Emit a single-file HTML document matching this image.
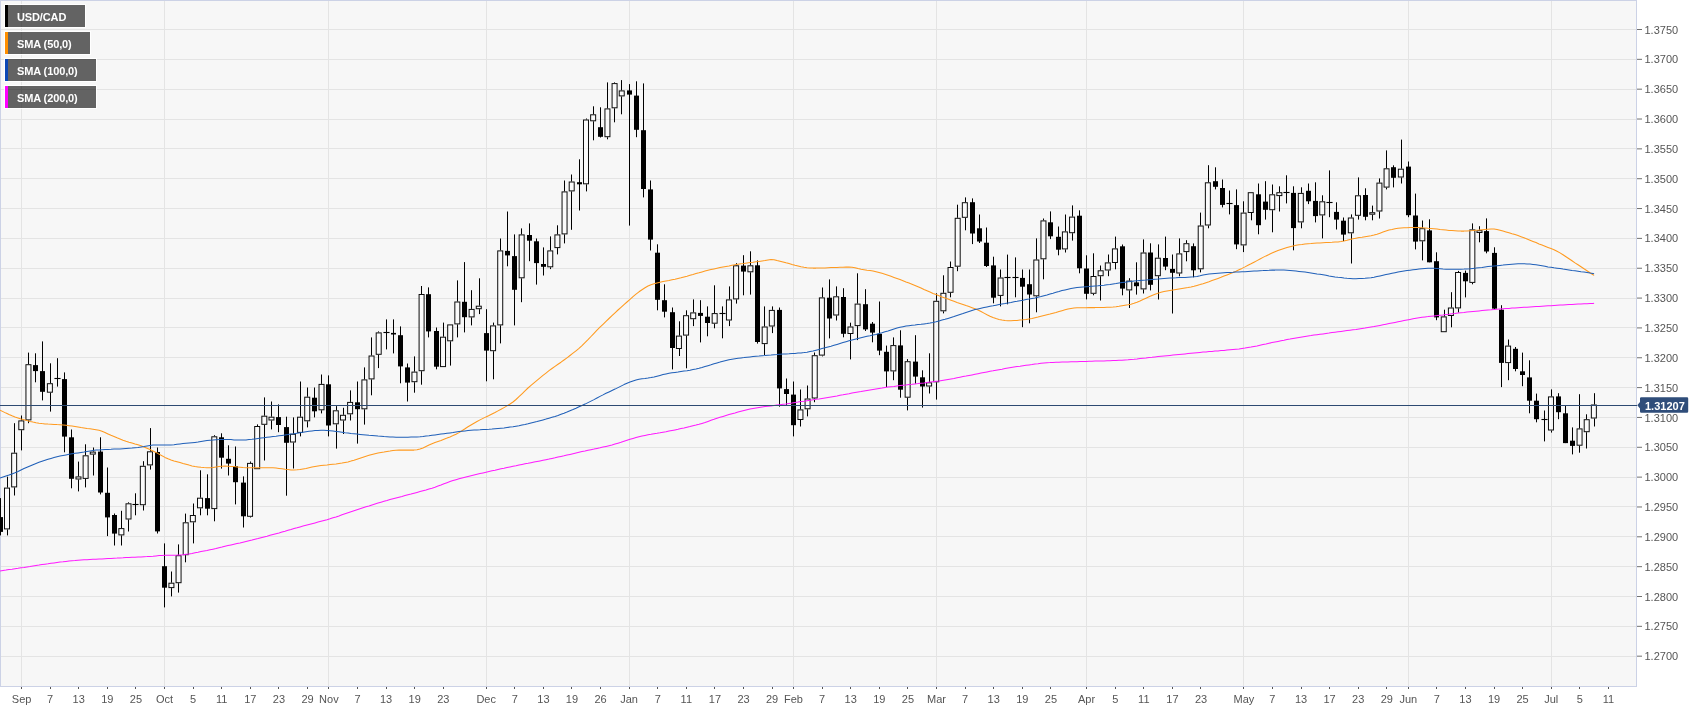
<!DOCTYPE html>
<html><head><meta charset="utf-8"><title>USD/CAD</title>
<style>html,body{margin:0;padding:0;background:#fff}svg{display:block;will-change:transform}text{font-family:"Liberation Sans",sans-serif}</style>
</head><body>
<svg width="1707" height="712" viewBox="0 0 1707 712">
<rect x="0" y="0" width="1707" height="712" fill="#ffffff"/>
<rect x="0" y="0" width="1636" height="686" fill="#f7f7f7"/>
<g stroke="#e4e4e4" stroke-width="1" shape-rendering="crispEdges">
<line x1="1" y1="29.5" x2="1636" y2="29.5"/>
<line x1="1" y1="59.5" x2="1636" y2="59.5"/>
<line x1="1" y1="89.5" x2="1636" y2="89.5"/>
<line x1="1" y1="119.5" x2="1636" y2="119.5"/>
<line x1="1" y1="148.5" x2="1636" y2="148.5"/>
<line x1="1" y1="178.5" x2="1636" y2="178.5"/>
<line x1="1" y1="208.5" x2="1636" y2="208.5"/>
<line x1="1" y1="238.5" x2="1636" y2="238.5"/>
<line x1="1" y1="268.5" x2="1636" y2="268.5"/>
<line x1="1" y1="298.5" x2="1636" y2="298.5"/>
<line x1="1" y1="327.5" x2="1636" y2="327.5"/>
<line x1="1" y1="357.5" x2="1636" y2="357.5"/>
<line x1="1" y1="387.5" x2="1636" y2="387.5"/>
<line x1="1" y1="417.5" x2="1636" y2="417.5"/>
<line x1="1" y1="447.5" x2="1636" y2="447.5"/>
<line x1="1" y1="477.5" x2="1636" y2="477.5"/>
<line x1="1" y1="506.5" x2="1636" y2="506.5"/>
<line x1="1" y1="536.5" x2="1636" y2="536.5"/>
<line x1="1" y1="566.5" x2="1636" y2="566.5"/>
<line x1="1" y1="596.5" x2="1636" y2="596.5"/>
<line x1="1" y1="626.5" x2="1636" y2="626.5"/>
<line x1="1" y1="656.5" x2="1636" y2="656.5"/>
<line x1="21.5" y1="1" x2="21.5" y2="686"/>
<line x1="164.5" y1="1" x2="164.5" y2="686"/>
<line x1="328.5" y1="1" x2="328.5" y2="686"/>
<line x1="486.5" y1="1" x2="486.5" y2="686"/>
<line x1="629.5" y1="1" x2="629.5" y2="686"/>
<line x1="793.5" y1="1" x2="793.5" y2="686"/>
<line x1="936.5" y1="1" x2="936.5" y2="686"/>
<line x1="1086.5" y1="1" x2="1086.5" y2="686"/>
<line x1="1243.5" y1="1" x2="1243.5" y2="686"/>
<line x1="1408.5" y1="1" x2="1408.5" y2="686"/>
<line x1="1551.5" y1="1" x2="1551.5" y2="686"/>
</g>
<g fill="none" stroke="#ccd2e6" stroke-width="1" shape-rendering="crispEdges"><line x1="0" y1="0.5" x2="1637" y2="0.5"/><line x1="0.5" y1="0" x2="0.5" y2="687"/><line x1="1636.5" y1="0" x2="1636.5" y2="687"/><line x1="0" y1="686.5" x2="1637" y2="686.5"/></g>
<g id="candles">
<line x1="0.5" y1="498.1" x2="0.5" y2="535.4" stroke="#000" stroke-width="1"/>
<rect x="-2" y="517.1" width="5" height="14.8" fill="#000"/>
<line x1="7.5" y1="476.7" x2="7.5" y2="487.6" stroke="#000" stroke-width="1"/>
<line x1="7.5" y1="529.4" x2="7.5" y2="535.4" stroke="#000" stroke-width="1"/>
<rect x="4.50" y="488.1" width="5" height="40.8" fill="#fff" fill-opacity="0.55" stroke="#0c0c0c" stroke-width="1"/>
<line x1="14.5" y1="423.2" x2="14.5" y2="452.7" stroke="#000" stroke-width="1"/>
<line x1="14.5" y1="487.4" x2="14.5" y2="495.5" stroke="#000" stroke-width="1"/>
<rect x="11.65" y="453.2" width="5" height="33.7" fill="#fff" fill-opacity="0.55" stroke="#0c0c0c" stroke-width="1"/>
<line x1="21.5" y1="415.5" x2="21.5" y2="420.4" stroke="#000" stroke-width="1"/>
<line x1="21.5" y1="430.2" x2="21.5" y2="450.4" stroke="#000" stroke-width="1"/>
<rect x="18.80" y="420.9" width="5" height="8.8" fill="#fff" fill-opacity="0.55" stroke="#0c0c0c" stroke-width="1"/>
<line x1="28.5" y1="352.6" x2="28.5" y2="364.2" stroke="#000" stroke-width="1"/>
<line x1="28.5" y1="420.4" x2="28.5" y2="423.2" stroke="#000" stroke-width="1"/>
<rect x="25.95" y="364.7" width="5" height="55.2" fill="#fff" fill-opacity="0.55" stroke="#0c0c0c" stroke-width="1"/>
<line x1="35.5" y1="353.3" x2="35.5" y2="382.3" stroke="#000" stroke-width="1"/>
<rect x="33" y="365.1" width="5" height="6.0" fill="#000"/>
<line x1="42.5" y1="341.4" x2="42.5" y2="400.4" stroke="#000" stroke-width="1"/>
<rect x="40" y="371.1" width="5" height="20.7" fill="#000"/>
<line x1="50.5" y1="363.3" x2="50.5" y2="383.2" stroke="#000" stroke-width="1"/>
<line x1="50.5" y1="392.7" x2="50.5" y2="411.6" stroke="#000" stroke-width="1"/>
<rect x="47.39" y="383.7" width="5" height="8.5" fill="#fff" fill-opacity="0.55" stroke="#0c0c0c" stroke-width="1"/>
<line x1="57.5" y1="358.2" x2="57.5" y2="386.6" stroke="#000" stroke-width="1"/>
<rect x="54.5" y="378" width="6" height="1" fill="#000"/>
<rect x="54.5" y="377.75" width="6" height="1.5" fill="#000" opacity="0.25"/>
<line x1="64.5" y1="372.4" x2="64.5" y2="452.3" stroke="#000" stroke-width="1"/>
<rect x="62" y="379.1" width="5" height="57.5" fill="#000"/>
<line x1="71.5" y1="429.5" x2="71.5" y2="488.3" stroke="#000" stroke-width="1"/>
<rect x="69" y="437.3" width="5" height="41.5" fill="#000"/>
<line x1="78.5" y1="461.6" x2="78.5" y2="476.4" stroke="#000" stroke-width="1"/>
<line x1="78.5" y1="479.5" x2="78.5" y2="491.4" stroke="#000" stroke-width="1"/>
<rect x="75.98" y="476.9" width="5" height="2.1" fill="#fff" fill-opacity="0.55" stroke="#0c0c0c" stroke-width="1"/>
<line x1="85.5" y1="444.3" x2="85.5" y2="455.3" stroke="#000" stroke-width="1"/>
<line x1="85.5" y1="478.9" x2="85.5" y2="487.4" stroke="#000" stroke-width="1"/>
<rect x="83.13" y="455.8" width="5" height="22.6" fill="#fff" fill-opacity="0.55" stroke="#0c0c0c" stroke-width="1"/>
<line x1="93.5" y1="447.5" x2="93.5" y2="451.6" stroke="#000" stroke-width="1"/>
<line x1="93.5" y1="454.6" x2="93.5" y2="475.5" stroke="#000" stroke-width="1"/>
<rect x="90.28" y="452.1" width="5" height="2.0" fill="#fff" fill-opacity="0.55" stroke="#0c0c0c" stroke-width="1"/>
<line x1="100.5" y1="437.3" x2="100.5" y2="494.4" stroke="#000" stroke-width="1"/>
<rect x="98" y="451.6" width="5" height="40.9" fill="#000"/>
<line x1="107.5" y1="467.5" x2="107.5" y2="536.1" stroke="#000" stroke-width="1"/>
<rect x="105" y="492.8" width="5" height="24.6" fill="#000"/>
<line x1="114.5" y1="513.5" x2="114.5" y2="545.5" stroke="#000" stroke-width="1"/>
<rect x="112" y="515.0" width="5" height="18.6" fill="#000"/>
<line x1="121.5" y1="510.8" x2="121.5" y2="528.1" stroke="#000" stroke-width="1"/>
<line x1="121.5" y1="535.4" x2="121.5" y2="545.5" stroke="#000" stroke-width="1"/>
<rect x="118.87" y="528.6" width="5" height="6.3" fill="#fff" fill-opacity="0.55" stroke="#0c0c0c" stroke-width="1"/>
<line x1="128.5" y1="502.3" x2="128.5" y2="503.3" stroke="#000" stroke-width="1"/>
<line x1="128.5" y1="519.5" x2="128.5" y2="531.5" stroke="#000" stroke-width="1"/>
<rect x="126.02" y="503.8" width="5" height="15.2" fill="#fff" fill-opacity="0.55" stroke="#0c0c0c" stroke-width="1"/>
<line x1="135.5" y1="493.3" x2="135.5" y2="515.3" stroke="#000" stroke-width="1"/>
<rect x="132.5" y="504" width="6" height="1" fill="#000"/>
<rect x="132.5" y="503.75" width="6" height="1.5" fill="#000" opacity="0.25"/>
<line x1="143.5" y1="461.2" x2="143.5" y2="465.8" stroke="#000" stroke-width="1"/>
<line x1="143.5" y1="505.2" x2="143.5" y2="510.5" stroke="#000" stroke-width="1"/>
<rect x="140.32" y="466.3" width="5" height="38.4" fill="#fff" fill-opacity="0.55" stroke="#0c0c0c" stroke-width="1"/>
<line x1="150.5" y1="428.1" x2="150.5" y2="451.3" stroke="#000" stroke-width="1"/>
<line x1="150.5" y1="465.4" x2="150.5" y2="469.6" stroke="#000" stroke-width="1"/>
<rect x="147.46" y="451.8" width="5" height="13.1" fill="#fff" fill-opacity="0.55" stroke="#0c0c0c" stroke-width="1"/>
<line x1="157.5" y1="447.5" x2="157.5" y2="533.5" stroke="#000" stroke-width="1"/>
<rect x="155" y="452.0" width="5" height="79.4" fill="#000"/>
<line x1="164.5" y1="543.4" x2="164.5" y2="607.4" stroke="#000" stroke-width="1"/>
<rect x="162" y="566.2" width="5" height="21.5" fill="#000"/>
<line x1="171.5" y1="571.5" x2="171.5" y2="582.7" stroke="#000" stroke-width="1"/>
<line x1="171.5" y1="588.1" x2="171.5" y2="596.4" stroke="#000" stroke-width="1"/>
<rect x="168.91" y="583.2" width="5" height="4.4" fill="#fff" fill-opacity="0.55" stroke="#0c0c0c" stroke-width="1"/>
<line x1="178.5" y1="544.4" x2="178.5" y2="555.2" stroke="#000" stroke-width="1"/>
<line x1="178.5" y1="583.2" x2="178.5" y2="592.6" stroke="#000" stroke-width="1"/>
<rect x="176.06" y="555.7" width="5" height="27.0" fill="#fff" fill-opacity="0.55" stroke="#0c0c0c" stroke-width="1"/>
<line x1="185.5" y1="513.6" x2="185.5" y2="522.3" stroke="#000" stroke-width="1"/>
<line x1="185.5" y1="555.2" x2="185.5" y2="562.3" stroke="#000" stroke-width="1"/>
<rect x="183.20" y="522.8" width="5" height="31.9" fill="#fff" fill-opacity="0.55" stroke="#0c0c0c" stroke-width="1"/>
<line x1="193.5" y1="503.5" x2="193.5" y2="515.0" stroke="#000" stroke-width="1"/>
<line x1="193.5" y1="522.3" x2="193.5" y2="543.4" stroke="#000" stroke-width="1"/>
<rect x="190.35" y="515.5" width="5" height="6.3" fill="#fff" fill-opacity="0.55" stroke="#0c0c0c" stroke-width="1"/>
<line x1="200.5" y1="470.3" x2="200.5" y2="497.7" stroke="#000" stroke-width="1"/>
<line x1="200.5" y1="508.3" x2="200.5" y2="515.3" stroke="#000" stroke-width="1"/>
<rect x="197.50" y="498.2" width="5" height="9.6" fill="#fff" fill-opacity="0.55" stroke="#0c0c0c" stroke-width="1"/>
<line x1="207.5" y1="474.3" x2="207.5" y2="515.3" stroke="#000" stroke-width="1"/>
<rect x="205" y="498.1" width="5" height="10.6" fill="#000"/>
<line x1="214.5" y1="435.2" x2="214.5" y2="436.3" stroke="#000" stroke-width="1"/>
<line x1="214.5" y1="509.1" x2="214.5" y2="521.3" stroke="#000" stroke-width="1"/>
<rect x="211.80" y="436.8" width="5" height="71.8" fill="#fff" fill-opacity="0.55" stroke="#0c0c0c" stroke-width="1"/>
<line x1="221.5" y1="433.3" x2="221.5" y2="468.6" stroke="#000" stroke-width="1"/>
<rect x="219" y="437.3" width="5" height="20.4" fill="#000"/>
<line x1="228.5" y1="445.3" x2="228.5" y2="475.5" stroke="#000" stroke-width="1"/>
<rect x="226" y="458.8" width="5" height="4.8" fill="#000"/>
<line x1="235.5" y1="446.5" x2="235.5" y2="504.4" stroke="#000" stroke-width="1"/>
<rect x="233" y="466.2" width="5" height="16.0" fill="#000"/>
<line x1="243.5" y1="476.4" x2="243.5" y2="527.5" stroke="#000" stroke-width="1"/>
<rect x="241" y="482.6" width="5" height="33.7" fill="#000"/>
<line x1="250.5" y1="461.5" x2="250.5" y2="462.9" stroke="#000" stroke-width="1"/>
<line x1="250.5" y1="516.8" x2="250.5" y2="517.5" stroke="#000" stroke-width="1"/>
<rect x="247.54" y="463.4" width="5" height="52.9" fill="#fff" fill-opacity="0.55" stroke="#0c0c0c" stroke-width="1"/>
<line x1="257.5" y1="424.4" x2="257.5" y2="426.0" stroke="#000" stroke-width="1"/>
<rect x="254.68" y="426.5" width="5" height="42.2" fill="#fff" fill-opacity="0.55" stroke="#0c0c0c" stroke-width="1"/>
<line x1="264.5" y1="397.4" x2="264.5" y2="415.7" stroke="#000" stroke-width="1"/>
<line x1="264.5" y1="424.8" x2="264.5" y2="460.5" stroke="#000" stroke-width="1"/>
<rect x="261.83" y="416.2" width="5" height="8.1" fill="#fff" fill-opacity="0.55" stroke="#0c0c0c" stroke-width="1"/>
<line x1="271.5" y1="401.5" x2="271.5" y2="416.7" stroke="#000" stroke-width="1"/>
<line x1="271.5" y1="420.5" x2="271.5" y2="429.4" stroke="#000" stroke-width="1"/>
<rect x="268.98" y="417.2" width="5" height="2.8" fill="#fff" fill-opacity="0.55" stroke="#0c0c0c" stroke-width="1"/>
<line x1="278.5" y1="404.4" x2="278.5" y2="432.2" stroke="#000" stroke-width="1"/>
<rect x="276" y="417.1" width="5" height="7.9" fill="#000"/>
<line x1="286.5" y1="416.7" x2="286.5" y2="495.7" stroke="#000" stroke-width="1"/>
<rect x="284" y="427.1" width="5" height="15.7" fill="#000"/>
<line x1="293.5" y1="417.4" x2="293.5" y2="433.8" stroke="#000" stroke-width="1"/>
<line x1="293.5" y1="442.5" x2="293.5" y2="468.5" stroke="#000" stroke-width="1"/>
<rect x="290.42" y="434.3" width="5" height="7.7" fill="#fff" fill-opacity="0.55" stroke="#0c0c0c" stroke-width="1"/>
<line x1="300.5" y1="381.5" x2="300.5" y2="416.7" stroke="#000" stroke-width="1"/>
<line x1="300.5" y1="432.9" x2="300.5" y2="436.4" stroke="#000" stroke-width="1"/>
<rect x="297.57" y="417.2" width="5" height="15.2" fill="#fff" fill-opacity="0.55" stroke="#0c0c0c" stroke-width="1"/>
<line x1="307.5" y1="387.5" x2="307.5" y2="396.7" stroke="#000" stroke-width="1"/>
<line x1="307.5" y1="421.3" x2="307.5" y2="427.4" stroke="#000" stroke-width="1"/>
<rect x="304.72" y="397.2" width="5" height="23.6" fill="#fff" fill-opacity="0.55" stroke="#0c0c0c" stroke-width="1"/>
<line x1="314.5" y1="387.5" x2="314.5" y2="417.4" stroke="#000" stroke-width="1"/>
<rect x="312" y="397.7" width="5" height="13.6" fill="#000"/>
<line x1="321.5" y1="374.5" x2="321.5" y2="383.9" stroke="#000" stroke-width="1"/>
<line x1="321.5" y1="410.3" x2="321.5" y2="413.4" stroke="#000" stroke-width="1"/>
<rect x="319.02" y="384.4" width="5" height="25.4" fill="#fff" fill-opacity="0.55" stroke="#0c0c0c" stroke-width="1"/>
<line x1="328.5" y1="375.4" x2="328.5" y2="436.4" stroke="#000" stroke-width="1"/>
<rect x="326" y="384.3" width="5" height="41.2" fill="#000"/>
<line x1="336.5" y1="406.1" x2="336.5" y2="410.3" stroke="#000" stroke-width="1"/>
<line x1="336.5" y1="424.3" x2="336.5" y2="448.6" stroke="#000" stroke-width="1"/>
<rect x="333.31" y="410.8" width="5" height="13.0" fill="#fff" fill-opacity="0.55" stroke="#0c0c0c" stroke-width="1"/>
<line x1="343.5" y1="407.8" x2="343.5" y2="414.8" stroke="#000" stroke-width="1"/>
<line x1="343.5" y1="420.5" x2="343.5" y2="434.0" stroke="#000" stroke-width="1"/>
<rect x="340.46" y="415.3" width="5" height="4.7" fill="#fff" fill-opacity="0.55" stroke="#0c0c0c" stroke-width="1"/>
<line x1="350.5" y1="390.4" x2="350.5" y2="401.9" stroke="#000" stroke-width="1"/>
<line x1="350.5" y1="414.3" x2="350.5" y2="420.5" stroke="#000" stroke-width="1"/>
<rect x="347.61" y="402.4" width="5" height="11.4" fill="#fff" fill-opacity="0.55" stroke="#0c0c0c" stroke-width="1"/>
<line x1="357.5" y1="381.5" x2="357.5" y2="443.6" stroke="#000" stroke-width="1"/>
<rect x="355" y="402.3" width="5" height="6.9" fill="#000"/>
<line x1="364.5" y1="367.4" x2="364.5" y2="379.4" stroke="#000" stroke-width="1"/>
<line x1="364.5" y1="409.3" x2="364.5" y2="424.6" stroke="#000" stroke-width="1"/>
<rect x="361.90" y="379.9" width="5" height="28.9" fill="#fff" fill-opacity="0.55" stroke="#0c0c0c" stroke-width="1"/>
<line x1="371.5" y1="337.4" x2="371.5" y2="355.5" stroke="#000" stroke-width="1"/>
<line x1="371.5" y1="379.4" x2="371.5" y2="395.3" stroke="#000" stroke-width="1"/>
<rect x="369.05" y="356.0" width="5" height="22.9" fill="#fff" fill-opacity="0.55" stroke="#0c0c0c" stroke-width="1"/>
<line x1="378.5" y1="331.4" x2="378.5" y2="332.4" stroke="#000" stroke-width="1"/>
<line x1="378.5" y1="354.8" x2="378.5" y2="368.1" stroke="#000" stroke-width="1"/>
<rect x="376.20" y="332.9" width="5" height="21.4" fill="#fff" fill-opacity="0.55" stroke="#0c0c0c" stroke-width="1"/>
<line x1="386.5" y1="319.4" x2="386.5" y2="349.4" stroke="#000" stroke-width="1"/>
<rect x="383.5" y="332" width="6" height="1" fill="#000"/>
<rect x="383.5" y="331.75" width="6" height="1.5" fill="#000" opacity="0.25"/>
<line x1="393.5" y1="319.4" x2="393.5" y2="353.4" stroke="#000" stroke-width="1"/>
<rect x="391" y="332.9" width="5" height="1.6" fill="#000"/>
<line x1="400.5" y1="326.4" x2="400.5" y2="383.3" stroke="#000" stroke-width="1"/>
<rect x="398" y="335.2" width="5" height="31.2" fill="#000"/>
<line x1="407.5" y1="363.5" x2="407.5" y2="401.5" stroke="#000" stroke-width="1"/>
<rect x="405" y="367.4" width="5" height="15.2" fill="#000"/>
<line x1="414.5" y1="356.4" x2="414.5" y2="371.6" stroke="#000" stroke-width="1"/>
<line x1="414.5" y1="382.2" x2="414.5" y2="392.7" stroke="#000" stroke-width="1"/>
<rect x="411.94" y="372.1" width="5" height="9.6" fill="#fff" fill-opacity="0.55" stroke="#0c0c0c" stroke-width="1"/>
<line x1="421.5" y1="286.0" x2="421.5" y2="294.0" stroke="#000" stroke-width="1"/>
<line x1="421.5" y1="371.2" x2="421.5" y2="384.7" stroke="#000" stroke-width="1"/>
<rect x="419.09" y="294.5" width="5" height="76.2" fill="#fff" fill-opacity="0.55" stroke="#0c0c0c" stroke-width="1"/>
<line x1="428.5" y1="287.4" x2="428.5" y2="337.4" stroke="#000" stroke-width="1"/>
<rect x="426" y="294.2" width="5" height="37.2" fill="#000"/>
<line x1="436.5" y1="327.5" x2="436.5" y2="369.3" stroke="#000" stroke-width="1"/>
<rect x="434" y="331.0" width="5" height="35.7" fill="#000"/>
<line x1="443.5" y1="322.6" x2="443.5" y2="336.7" stroke="#000" stroke-width="1"/>
<rect x="440.53" y="337.2" width="5" height="29.4" fill="#fff" fill-opacity="0.55" stroke="#0c0c0c" stroke-width="1"/>
<line x1="450.5" y1="341.3" x2="450.5" y2="365.6" stroke="#000" stroke-width="1"/>
<rect x="447.68" y="324.9" width="5" height="15.9" fill="#fff" fill-opacity="0.55" stroke="#0c0c0c" stroke-width="1"/>
<line x1="457.5" y1="280.4" x2="457.5" y2="301.5" stroke="#000" stroke-width="1"/>
<line x1="457.5" y1="324.4" x2="457.5" y2="337.4" stroke="#000" stroke-width="1"/>
<rect x="454.83" y="302.0" width="5" height="21.9" fill="#fff" fill-opacity="0.55" stroke="#0c0c0c" stroke-width="1"/>
<line x1="464.5" y1="262.1" x2="464.5" y2="332.4" stroke="#000" stroke-width="1"/>
<rect x="462" y="301.8" width="5" height="15.4" fill="#000"/>
<line x1="471.5" y1="290.2" x2="471.5" y2="308.9" stroke="#000" stroke-width="1"/>
<line x1="471.5" y1="317.4" x2="471.5" y2="325.4" stroke="#000" stroke-width="1"/>
<rect x="469.12" y="309.4" width="5" height="7.5" fill="#fff" fill-opacity="0.55" stroke="#0c0c0c" stroke-width="1"/>
<line x1="479.5" y1="278.3" x2="479.5" y2="305.7" stroke="#000" stroke-width="1"/>
<line x1="479.5" y1="309.2" x2="479.5" y2="314.1" stroke="#000" stroke-width="1"/>
<rect x="476.27" y="306.2" width="5" height="2.5" fill="#fff" fill-opacity="0.55" stroke="#0c0c0c" stroke-width="1"/>
<line x1="486.5" y1="309.2" x2="486.5" y2="381.3" stroke="#000" stroke-width="1"/>
<rect x="484" y="333.1" width="5" height="17.5" fill="#000"/>
<line x1="493.5" y1="322.6" x2="493.5" y2="325.4" stroke="#000" stroke-width="1"/>
<line x1="493.5" y1="351.2" x2="493.5" y2="379.3" stroke="#000" stroke-width="1"/>
<rect x="490.57" y="325.9" width="5" height="24.8" fill="#fff" fill-opacity="0.55" stroke="#0c0c0c" stroke-width="1"/>
<line x1="500.5" y1="238.5" x2="500.5" y2="250.4" stroke="#000" stroke-width="1"/>
<line x1="500.5" y1="325.4" x2="500.5" y2="343.4" stroke="#000" stroke-width="1"/>
<rect x="497.72" y="250.9" width="5" height="74.0" fill="#fff" fill-opacity="0.55" stroke="#0c0c0c" stroke-width="1"/>
<line x1="507.5" y1="211.5" x2="507.5" y2="266.3" stroke="#000" stroke-width="1"/>
<rect x="505" y="250.9" width="5" height="4.5" fill="#000"/>
<line x1="514.5" y1="234.4" x2="514.5" y2="325.4" stroke="#000" stroke-width="1"/>
<rect x="512" y="256.1" width="5" height="33.7" fill="#000"/>
<line x1="521.5" y1="228.4" x2="521.5" y2="234.4" stroke="#000" stroke-width="1"/>
<line x1="521.5" y1="278.3" x2="521.5" y2="302.2" stroke="#000" stroke-width="1"/>
<rect x="519.16" y="234.9" width="5" height="42.9" fill="#fff" fill-opacity="0.55" stroke="#0c0c0c" stroke-width="1"/>
<line x1="529.5" y1="223.4" x2="529.5" y2="261.2" stroke="#000" stroke-width="1"/>
<rect x="527" y="235.0" width="5" height="5.7" fill="#000"/>
<line x1="536.5" y1="238.5" x2="536.5" y2="284.6" stroke="#000" stroke-width="1"/>
<rect x="534" y="241.3" width="5" height="21.8" fill="#000"/>
<line x1="543.5" y1="247.4" x2="543.5" y2="275.5" stroke="#000" stroke-width="1"/>
<rect x="541" y="264.0" width="5" height="2.8" fill="#000"/>
<line x1="550.5" y1="236.4" x2="550.5" y2="250.4" stroke="#000" stroke-width="1"/>
<line x1="550.5" y1="267.3" x2="550.5" y2="269.1" stroke="#000" stroke-width="1"/>
<rect x="547.75" y="250.9" width="5" height="15.9" fill="#fff" fill-opacity="0.55" stroke="#0c0c0c" stroke-width="1"/>
<line x1="557.5" y1="225.3" x2="557.5" y2="234.4" stroke="#000" stroke-width="1"/>
<line x1="557.5" y1="248.1" x2="557.5" y2="254.4" stroke="#000" stroke-width="1"/>
<rect x="554.90" y="234.9" width="5" height="12.7" fill="#fff" fill-opacity="0.55" stroke="#0c0c0c" stroke-width="1"/>
<line x1="564.5" y1="180.5" x2="564.5" y2="191.4" stroke="#000" stroke-width="1"/>
<line x1="564.5" y1="234.4" x2="564.5" y2="243.4" stroke="#000" stroke-width="1"/>
<rect x="562.05" y="191.9" width="5" height="42.0" fill="#fff" fill-opacity="0.55" stroke="#0c0c0c" stroke-width="1"/>
<line x1="571.5" y1="174.5" x2="571.5" y2="181.5" stroke="#000" stroke-width="1"/>
<line x1="571.5" y1="191.4" x2="571.5" y2="229.8" stroke="#000" stroke-width="1"/>
<rect x="569.20" y="182.0" width="5" height="8.9" fill="#fff" fill-opacity="0.55" stroke="#0c0c0c" stroke-width="1"/>
<line x1="579.5" y1="159.3" x2="579.5" y2="210.5" stroke="#000" stroke-width="1"/>
<rect x="577" y="182.2" width="5" height="2.1" fill="#000"/>
<line x1="586.5" y1="118.5" x2="586.5" y2="119.5" stroke="#000" stroke-width="1"/>
<line x1="586.5" y1="184.3" x2="586.5" y2="191.4" stroke="#000" stroke-width="1"/>
<rect x="583.49" y="120.0" width="5" height="63.8" fill="#fff" fill-opacity="0.55" stroke="#0c0c0c" stroke-width="1"/>
<line x1="593.5" y1="106.3" x2="593.5" y2="114.3" stroke="#000" stroke-width="1"/>
<line x1="593.5" y1="121.3" x2="593.5" y2="140.3" stroke="#000" stroke-width="1"/>
<rect x="590.64" y="114.8" width="5" height="6.0" fill="#fff" fill-opacity="0.55" stroke="#0c0c0c" stroke-width="1"/>
<line x1="600.5" y1="107.3" x2="600.5" y2="137.5" stroke="#000" stroke-width="1"/>
<rect x="598" y="127.2" width="5" height="9.6" fill="#000"/>
<line x1="607.5" y1="82.4" x2="607.5" y2="108.4" stroke="#000" stroke-width="1"/>
<line x1="607.5" y1="137.2" x2="607.5" y2="139.3" stroke="#000" stroke-width="1"/>
<rect x="604.94" y="108.9" width="5" height="27.8" fill="#fff" fill-opacity="0.55" stroke="#0c0c0c" stroke-width="1"/>
<line x1="614.5" y1="82.4" x2="614.5" y2="83.1" stroke="#000" stroke-width="1"/>
<line x1="614.5" y1="108.3" x2="614.5" y2="122.3" stroke="#000" stroke-width="1"/>
<rect x="612.08" y="83.6" width="5" height="24.2" fill="#fff" fill-opacity="0.55" stroke="#0c0c0c" stroke-width="1"/>
<line x1="621.5" y1="80.1" x2="621.5" y2="90.4" stroke="#000" stroke-width="1"/>
<line x1="621.5" y1="96.4" x2="621.5" y2="114.3" stroke="#000" stroke-width="1"/>
<rect x="619.23" y="90.9" width="5" height="5.0" fill="#fff" fill-opacity="0.55" stroke="#0c0c0c" stroke-width="1"/>
<line x1="629.5" y1="84.1" x2="629.5" y2="225.6" stroke="#000" stroke-width="1"/>
<rect x="627" y="90.4" width="5" height="4.2" fill="#000"/>
<line x1="636.5" y1="81.3" x2="636.5" y2="137.2" stroke="#000" stroke-width="1"/>
<rect x="634" y="95.6" width="5" height="34.2" fill="#000"/>
<line x1="643.5" y1="83.4" x2="643.5" y2="197.4" stroke="#000" stroke-width="1"/>
<rect x="641" y="130.2" width="5" height="58.8" fill="#000"/>
<line x1="650.5" y1="180.5" x2="650.5" y2="250.5" stroke="#000" stroke-width="1"/>
<rect x="648" y="189.4" width="5" height="50.2" fill="#000"/>
<line x1="657.5" y1="244.3" x2="657.5" y2="310.3" stroke="#000" stroke-width="1"/>
<rect x="655" y="252.7" width="5" height="47.1" fill="#000"/>
<line x1="664.5" y1="284.3" x2="664.5" y2="317.4" stroke="#000" stroke-width="1"/>
<rect x="662" y="300.2" width="5" height="11.5" fill="#000"/>
<line x1="672.5" y1="307.5" x2="672.5" y2="369.4" stroke="#000" stroke-width="1"/>
<rect x="670" y="312.2" width="5" height="35.8" fill="#000"/>
<line x1="679.5" y1="321.3" x2="679.5" y2="335.6" stroke="#000" stroke-width="1"/>
<line x1="679.5" y1="349.0" x2="679.5" y2="356.0" stroke="#000" stroke-width="1"/>
<rect x="676.42" y="336.1" width="5" height="12.4" fill="#fff" fill-opacity="0.55" stroke="#0c0c0c" stroke-width="1"/>
<line x1="686.5" y1="310.3" x2="686.5" y2="315.2" stroke="#000" stroke-width="1"/>
<line x1="686.5" y1="335.6" x2="686.5" y2="368.3" stroke="#000" stroke-width="1"/>
<rect x="683.56" y="315.7" width="5" height="19.4" fill="#fff" fill-opacity="0.55" stroke="#0c0c0c" stroke-width="1"/>
<line x1="693.5" y1="299.4" x2="693.5" y2="312.4" stroke="#000" stroke-width="1"/>
<line x1="693.5" y1="319.2" x2="693.5" y2="326.1" stroke="#000" stroke-width="1"/>
<rect x="690.71" y="312.9" width="5" height="5.8" fill="#fff" fill-opacity="0.55" stroke="#0c0c0c" stroke-width="1"/>
<line x1="700.5" y1="300.2" x2="700.5" y2="342.4" stroke="#000" stroke-width="1"/>
<rect x="698" y="312.9" width="5" height="3.0" fill="#000"/>
<line x1="707.5" y1="306.4" x2="707.5" y2="336.3" stroke="#000" stroke-width="1"/>
<rect x="705" y="316.7" width="5" height="6.3" fill="#000"/>
<line x1="714.5" y1="285.3" x2="714.5" y2="313.1" stroke="#000" stroke-width="1"/>
<line x1="714.5" y1="323.7" x2="714.5" y2="328.3" stroke="#000" stroke-width="1"/>
<rect x="712.16" y="313.6" width="5" height="9.6" fill="#fff" fill-opacity="0.55" stroke="#0c0c0c" stroke-width="1"/>
<line x1="722.5" y1="306.4" x2="722.5" y2="338.3" stroke="#000" stroke-width="1"/>
<rect x="719.5" y="313" width="6" height="1" fill="#000"/>
<rect x="719.5" y="312.75" width="6" height="1.5" fill="#000" opacity="0.25"/>
<line x1="729.5" y1="286.4" x2="729.5" y2="299.4" stroke="#000" stroke-width="1"/>
<line x1="729.5" y1="320.5" x2="729.5" y2="326.1" stroke="#000" stroke-width="1"/>
<rect x="726.45" y="299.9" width="5" height="20.1" fill="#fff" fill-opacity="0.55" stroke="#0c0c0c" stroke-width="1"/>
<line x1="736.5" y1="263.2" x2="736.5" y2="265.3" stroke="#000" stroke-width="1"/>
<line x1="736.5" y1="299.4" x2="736.5" y2="303.6" stroke="#000" stroke-width="1"/>
<rect x="733.60" y="265.8" width="5" height="33.1" fill="#fff" fill-opacity="0.55" stroke="#0c0c0c" stroke-width="1"/>
<line x1="743.5" y1="255.2" x2="743.5" y2="295.3" stroke="#000" stroke-width="1"/>
<rect x="741" y="265.6" width="5" height="6.0" fill="#000"/>
<line x1="750.5" y1="251.3" x2="750.5" y2="265.3" stroke="#000" stroke-width="1"/>
<line x1="750.5" y1="272.3" x2="750.5" y2="294.6" stroke="#000" stroke-width="1"/>
<rect x="747.90" y="265.8" width="5" height="6.0" fill="#fff" fill-opacity="0.55" stroke="#0c0c0c" stroke-width="1"/>
<line x1="757.5" y1="260.4" x2="757.5" y2="343.6" stroke="#000" stroke-width="1"/>
<rect x="755" y="265.3" width="5" height="76.7" fill="#000"/>
<line x1="764.5" y1="306.4" x2="764.5" y2="326.5" stroke="#000" stroke-width="1"/>
<line x1="764.5" y1="344.1" x2="764.5" y2="355.0" stroke="#000" stroke-width="1"/>
<rect x="762.19" y="327.0" width="5" height="16.6" fill="#fff" fill-opacity="0.55" stroke="#0c0c0c" stroke-width="1"/>
<line x1="772.5" y1="306.4" x2="772.5" y2="309.9" stroke="#000" stroke-width="1"/>
<line x1="772.5" y1="326.5" x2="772.5" y2="333.1" stroke="#000" stroke-width="1"/>
<rect x="769.34" y="310.4" width="5" height="15.6" fill="#fff" fill-opacity="0.55" stroke="#0c0c0c" stroke-width="1"/>
<line x1="779.5" y1="307.5" x2="779.5" y2="406.7" stroke="#000" stroke-width="1"/>
<rect x="777" y="309.9" width="5" height="78.5" fill="#000"/>
<line x1="786.5" y1="378.5" x2="786.5" y2="405.2" stroke="#000" stroke-width="1"/>
<rect x="784" y="389.1" width="5" height="4.9" fill="#000"/>
<line x1="793.5" y1="381.5" x2="793.5" y2="436.4" stroke="#000" stroke-width="1"/>
<rect x="791" y="394.6" width="5" height="30.6" fill="#000"/>
<line x1="800.5" y1="389.5" x2="800.5" y2="409.4" stroke="#000" stroke-width="1"/>
<line x1="800.5" y1="420.0" x2="800.5" y2="426.5" stroke="#000" stroke-width="1"/>
<rect x="797.93" y="409.9" width="5" height="9.6" fill="#fff" fill-opacity="0.55" stroke="#0c0c0c" stroke-width="1"/>
<line x1="807.5" y1="385.5" x2="807.5" y2="398.5" stroke="#000" stroke-width="1"/>
<line x1="807.5" y1="409.3" x2="807.5" y2="416.4" stroke="#000" stroke-width="1"/>
<rect x="805.08" y="399.0" width="5" height="9.8" fill="#fff" fill-opacity="0.55" stroke="#0c0c0c" stroke-width="1"/>
<line x1="814.5" y1="352.5" x2="814.5" y2="355.2" stroke="#000" stroke-width="1"/>
<line x1="814.5" y1="398.5" x2="814.5" y2="402.2" stroke="#000" stroke-width="1"/>
<rect x="812.23" y="355.7" width="5" height="42.3" fill="#fff" fill-opacity="0.55" stroke="#0c0c0c" stroke-width="1"/>
<line x1="822.5" y1="287.5" x2="822.5" y2="297.4" stroke="#000" stroke-width="1"/>
<line x1="822.5" y1="355.6" x2="822.5" y2="356.4" stroke="#000" stroke-width="1"/>
<rect x="819.38" y="297.9" width="5" height="57.2" fill="#fff" fill-opacity="0.55" stroke="#0c0c0c" stroke-width="1"/>
<line x1="829.5" y1="279.4" x2="829.5" y2="338.4" stroke="#000" stroke-width="1"/>
<rect x="827" y="297.7" width="5" height="20.8" fill="#000"/>
<line x1="836.5" y1="286.4" x2="836.5" y2="296.3" stroke="#000" stroke-width="1"/>
<line x1="836.5" y1="315.5" x2="836.5" y2="320.5" stroke="#000" stroke-width="1"/>
<rect x="833.67" y="296.8" width="5" height="18.2" fill="#fff" fill-opacity="0.55" stroke="#0c0c0c" stroke-width="1"/>
<line x1="843.5" y1="288.2" x2="843.5" y2="337.3" stroke="#000" stroke-width="1"/>
<rect x="841" y="297.0" width="5" height="36.8" fill="#000"/>
<line x1="850.5" y1="322.7" x2="850.5" y2="326.5" stroke="#000" stroke-width="1"/>
<line x1="850.5" y1="334.0" x2="850.5" y2="359.4" stroke="#000" stroke-width="1"/>
<rect x="847.97" y="327.0" width="5" height="6.5" fill="#fff" fill-opacity="0.55" stroke="#0c0c0c" stroke-width="1"/>
<line x1="857.5" y1="273.3" x2="857.5" y2="303.6" stroke="#000" stroke-width="1"/>
<line x1="857.5" y1="326.1" x2="857.5" y2="340.1" stroke="#000" stroke-width="1"/>
<rect x="855.12" y="304.1" width="5" height="21.5" fill="#fff" fill-opacity="0.55" stroke="#0c0c0c" stroke-width="1"/>
<line x1="865.5" y1="289.2" x2="865.5" y2="331.0" stroke="#000" stroke-width="1"/>
<rect x="863" y="304.2" width="5" height="25.2" fill="#000"/>
<line x1="872.5" y1="322.0" x2="872.5" y2="342.3" stroke="#000" stroke-width="1"/>
<rect x="870" y="323.7" width="5" height="8.9" fill="#000"/>
<line x1="879.5" y1="301.5" x2="879.5" y2="355.2" stroke="#000" stroke-width="1"/>
<rect x="877" y="333.8" width="5" height="16.8" fill="#000"/>
<line x1="886.5" y1="345.6" x2="886.5" y2="387.1" stroke="#000" stroke-width="1"/>
<rect x="884" y="351.8" width="5" height="19.6" fill="#000"/>
<line x1="893.5" y1="337.4" x2="893.5" y2="345.1" stroke="#000" stroke-width="1"/>
<line x1="893.5" y1="371.4" x2="893.5" y2="380.2" stroke="#000" stroke-width="1"/>
<rect x="890.86" y="345.6" width="5" height="25.3" fill="#fff" fill-opacity="0.55" stroke="#0c0c0c" stroke-width="1"/>
<line x1="900.5" y1="330.3" x2="900.5" y2="397.7" stroke="#000" stroke-width="1"/>
<rect x="898" y="345.4" width="5" height="44.3" fill="#000"/>
<line x1="907.5" y1="359.1" x2="907.5" y2="361.2" stroke="#000" stroke-width="1"/>
<line x1="907.5" y1="397.7" x2="907.5" y2="410.4" stroke="#000" stroke-width="1"/>
<rect x="905.15" y="361.7" width="5" height="35.5" fill="#fff" fill-opacity="0.55" stroke="#0c0c0c" stroke-width="1"/>
<line x1="915.5" y1="335.2" x2="915.5" y2="383.7" stroke="#000" stroke-width="1"/>
<rect x="913" y="361.6" width="5" height="15.0" fill="#000"/>
<line x1="922.5" y1="370.3" x2="922.5" y2="407.6" stroke="#000" stroke-width="1"/>
<rect x="920" y="377.3" width="5" height="9.2" fill="#000"/>
<line x1="929.5" y1="353.3" x2="929.5" y2="382.3" stroke="#000" stroke-width="1"/>
<line x1="929.5" y1="386.5" x2="929.5" y2="393.5" stroke="#000" stroke-width="1"/>
<rect x="926.60" y="382.8" width="5" height="3.2" fill="#fff" fill-opacity="0.55" stroke="#0c0c0c" stroke-width="1"/>
<line x1="936.5" y1="293.3" x2="936.5" y2="300.8" stroke="#000" stroke-width="1"/>
<line x1="936.5" y1="382.3" x2="936.5" y2="399.6" stroke="#000" stroke-width="1"/>
<rect x="933.74" y="301.3" width="5" height="80.5" fill="#fff" fill-opacity="0.55" stroke="#0c0c0c" stroke-width="1"/>
<line x1="943.5" y1="275.3" x2="943.5" y2="292.8" stroke="#000" stroke-width="1"/>
<line x1="943.5" y1="311.3" x2="943.5" y2="313.4" stroke="#000" stroke-width="1"/>
<rect x="940.89" y="293.3" width="5" height="17.5" fill="#fff" fill-opacity="0.55" stroke="#0c0c0c" stroke-width="1"/>
<line x1="950.5" y1="261.5" x2="950.5" y2="267.0" stroke="#000" stroke-width="1"/>
<line x1="950.5" y1="292.8" x2="950.5" y2="297.3" stroke="#000" stroke-width="1"/>
<rect x="948.04" y="267.5" width="5" height="24.8" fill="#fff" fill-opacity="0.55" stroke="#0c0c0c" stroke-width="1"/>
<line x1="957.5" y1="204.7" x2="957.5" y2="217.8" stroke="#000" stroke-width="1"/>
<line x1="957.5" y1="266.7" x2="957.5" y2="271.2" stroke="#000" stroke-width="1"/>
<rect x="955.19" y="218.3" width="5" height="47.9" fill="#fff" fill-opacity="0.55" stroke="#0c0c0c" stroke-width="1"/>
<line x1="965.5" y1="197.4" x2="965.5" y2="202.2" stroke="#000" stroke-width="1"/>
<line x1="965.5" y1="217.8" x2="965.5" y2="230.3" stroke="#000" stroke-width="1"/>
<rect x="962.34" y="202.7" width="5" height="14.6" fill="#fff" fill-opacity="0.55" stroke="#0c0c0c" stroke-width="1"/>
<line x1="972.5" y1="198.4" x2="972.5" y2="244.1" stroke="#000" stroke-width="1"/>
<rect x="970" y="202.2" width="5" height="31.3" fill="#000"/>
<line x1="979.5" y1="214.5" x2="979.5" y2="243.0" stroke="#000" stroke-width="1"/>
<rect x="977" y="228.3" width="5" height="13.2" fill="#000"/>
<line x1="986.5" y1="227.5" x2="986.5" y2="267.0" stroke="#000" stroke-width="1"/>
<rect x="984" y="242.7" width="5" height="23.3" fill="#000"/>
<line x1="993.5" y1="256.7" x2="993.5" y2="303.3" stroke="#000" stroke-width="1"/>
<rect x="991" y="265.4" width="5" height="32.3" fill="#000"/>
<line x1="1000.5" y1="269.5" x2="1000.5" y2="277.5" stroke="#000" stroke-width="1"/>
<line x1="1000.5" y1="295.9" x2="1000.5" y2="306.4" stroke="#000" stroke-width="1"/>
<rect x="998.08" y="278.0" width="5" height="17.4" fill="#fff" fill-opacity="0.55" stroke="#0c0c0c" stroke-width="1"/>
<line x1="1007.5" y1="254.6" x2="1007.5" y2="304.3" stroke="#000" stroke-width="1"/>
<rect x="1004.5" y="277" width="6" height="1" fill="#000"/>
<rect x="1004.5" y="276.75" width="6" height="1.5" fill="#000" opacity="0.25"/>
<line x1="1015.5" y1="257.4" x2="1015.5" y2="297.3" stroke="#000" stroke-width="1"/>
<rect x="1012.5" y="277" width="6" height="1" fill="#000"/>
<rect x="1012.5" y="276.75" width="6" height="1.5" fill="#000" opacity="0.25"/>
<line x1="1022.5" y1="269.5" x2="1022.5" y2="327.2" stroke="#000" stroke-width="1"/>
<rect x="1020" y="277.9" width="5" height="8.8" fill="#000"/>
<line x1="1029.5" y1="269.5" x2="1029.5" y2="323.3" stroke="#000" stroke-width="1"/>
<rect x="1027" y="284.2" width="5" height="10.3" fill="#000"/>
<line x1="1036.5" y1="238.4" x2="1036.5" y2="259.5" stroke="#000" stroke-width="1"/>
<line x1="1036.5" y1="296.3" x2="1036.5" y2="312.3" stroke="#000" stroke-width="1"/>
<rect x="1033.82" y="260.0" width="5" height="35.8" fill="#fff" fill-opacity="0.55" stroke="#0c0c0c" stroke-width="1"/>
<line x1="1043.5" y1="218.5" x2="1043.5" y2="220.4" stroke="#000" stroke-width="1"/>
<line x1="1043.5" y1="259.3" x2="1043.5" y2="279.3" stroke="#000" stroke-width="1"/>
<rect x="1040.96" y="220.9" width="5" height="37.9" fill="#fff" fill-opacity="0.55" stroke="#0c0c0c" stroke-width="1"/>
<line x1="1050.5" y1="211.4" x2="1050.5" y2="239.1" stroke="#000" stroke-width="1"/>
<rect x="1048" y="222.3" width="5" height="14.0" fill="#000"/>
<line x1="1058.5" y1="226.5" x2="1058.5" y2="255.3" stroke="#000" stroke-width="1"/>
<rect x="1056" y="236.8" width="5" height="12.9" fill="#000"/>
<line x1="1065.5" y1="214.5" x2="1065.5" y2="231.4" stroke="#000" stroke-width="1"/>
<line x1="1065.5" y1="249.4" x2="1065.5" y2="252.5" stroke="#000" stroke-width="1"/>
<rect x="1062.41" y="231.9" width="5" height="17.0" fill="#fff" fill-opacity="0.55" stroke="#0c0c0c" stroke-width="1"/>
<line x1="1072.5" y1="205.4" x2="1072.5" y2="216.6" stroke="#000" stroke-width="1"/>
<line x1="1072.5" y1="233.2" x2="1072.5" y2="240.6" stroke="#000" stroke-width="1"/>
<rect x="1069.56" y="217.1" width="5" height="15.6" fill="#fff" fill-opacity="0.55" stroke="#0c0c0c" stroke-width="1"/>
<line x1="1079.5" y1="210.3" x2="1079.5" y2="273.3" stroke="#000" stroke-width="1"/>
<rect x="1077" y="215.7" width="5" height="52.6" fill="#000"/>
<line x1="1086.5" y1="255.3" x2="1086.5" y2="299.4" stroke="#000" stroke-width="1"/>
<rect x="1084" y="268.5" width="5" height="25.3" fill="#000"/>
<line x1="1093.5" y1="253.3" x2="1093.5" y2="276.0" stroke="#000" stroke-width="1"/>
<line x1="1093.5" y1="293.8" x2="1093.5" y2="295.3" stroke="#000" stroke-width="1"/>
<rect x="1091.00" y="276.5" width="5" height="16.8" fill="#fff" fill-opacity="0.55" stroke="#0c0c0c" stroke-width="1"/>
<line x1="1100.5" y1="265.5" x2="1100.5" y2="270.3" stroke="#000" stroke-width="1"/>
<line x1="1100.5" y1="276.2" x2="1100.5" y2="300.5" stroke="#000" stroke-width="1"/>
<rect x="1098.15" y="270.8" width="5" height="4.9" fill="#fff" fill-opacity="0.55" stroke="#0c0c0c" stroke-width="1"/>
<line x1="1108.5" y1="254.5" x2="1108.5" y2="262.4" stroke="#000" stroke-width="1"/>
<line x1="1108.5" y1="270.5" x2="1108.5" y2="276.2" stroke="#000" stroke-width="1"/>
<rect x="1105.30" y="262.9" width="5" height="7.1" fill="#fff" fill-opacity="0.55" stroke="#0c0c0c" stroke-width="1"/>
<line x1="1115.5" y1="236.6" x2="1115.5" y2="248.4" stroke="#000" stroke-width="1"/>
<line x1="1115.5" y1="263.0" x2="1115.5" y2="269.3" stroke="#000" stroke-width="1"/>
<rect x="1112.44" y="248.9" width="5" height="13.6" fill="#fff" fill-opacity="0.55" stroke="#0c0c0c" stroke-width="1"/>
<line x1="1122.5" y1="244.5" x2="1122.5" y2="295.3" stroke="#000" stroke-width="1"/>
<rect x="1120" y="246.3" width="5" height="42.3" fill="#000"/>
<line x1="1129.5" y1="278.2" x2="1129.5" y2="280.6" stroke="#000" stroke-width="1"/>
<line x1="1129.5" y1="290.4" x2="1129.5" y2="308.0" stroke="#000" stroke-width="1"/>
<rect x="1126.74" y="281.1" width="5" height="8.8" fill="#fff" fill-opacity="0.55" stroke="#0c0c0c" stroke-width="1"/>
<line x1="1136.5" y1="262.3" x2="1136.5" y2="294.6" stroke="#000" stroke-width="1"/>
<rect x="1134" y="282.4" width="5" height="3.8" fill="#000"/>
<line x1="1143.5" y1="239.4" x2="1143.5" y2="252.5" stroke="#000" stroke-width="1"/>
<line x1="1143.5" y1="289.4" x2="1143.5" y2="293.5" stroke="#000" stroke-width="1"/>
<rect x="1141.04" y="253.0" width="5" height="35.9" fill="#fff" fill-opacity="0.55" stroke="#0c0c0c" stroke-width="1"/>
<line x1="1150.5" y1="243.3" x2="1150.5" y2="290.4" stroke="#000" stroke-width="1"/>
<rect x="1148" y="252.5" width="5" height="32.3" fill="#000"/>
<line x1="1158.5" y1="244.4" x2="1158.5" y2="257.7" stroke="#000" stroke-width="1"/>
<line x1="1158.5" y1="276.2" x2="1158.5" y2="299.5" stroke="#000" stroke-width="1"/>
<rect x="1155.33" y="258.2" width="5" height="17.5" fill="#fff" fill-opacity="0.55" stroke="#0c0c0c" stroke-width="1"/>
<line x1="1165.5" y1="236.6" x2="1165.5" y2="270.2" stroke="#000" stroke-width="1"/>
<rect x="1163" y="258.0" width="5" height="8.6" fill="#000"/>
<line x1="1172.5" y1="254.5" x2="1172.5" y2="313.5" stroke="#000" stroke-width="1"/>
<rect x="1170" y="268.9" width="5" height="3.9" fill="#000"/>
<line x1="1179.5" y1="238.4" x2="1179.5" y2="253.4" stroke="#000" stroke-width="1"/>
<line x1="1179.5" y1="273.5" x2="1179.5" y2="276.3" stroke="#000" stroke-width="1"/>
<rect x="1176.78" y="253.9" width="5" height="19.1" fill="#fff" fill-opacity="0.55" stroke="#0c0c0c" stroke-width="1"/>
<line x1="1186.5" y1="240.2" x2="1186.5" y2="243.2" stroke="#000" stroke-width="1"/>
<line x1="1186.5" y1="252.1" x2="1186.5" y2="261.3" stroke="#000" stroke-width="1"/>
<rect x="1183.92" y="243.7" width="5" height="7.9" fill="#fff" fill-opacity="0.55" stroke="#0c0c0c" stroke-width="1"/>
<line x1="1193.5" y1="243.4" x2="1193.5" y2="277.3" stroke="#000" stroke-width="1"/>
<rect x="1191" y="246.2" width="5" height="24.1" fill="#000"/>
<line x1="1200.5" y1="212.6" x2="1200.5" y2="225.5" stroke="#000" stroke-width="1"/>
<line x1="1200.5" y1="269.3" x2="1200.5" y2="272.4" stroke="#000" stroke-width="1"/>
<rect x="1198.22" y="226.0" width="5" height="42.8" fill="#fff" fill-opacity="0.55" stroke="#0c0c0c" stroke-width="1"/>
<line x1="1208.5" y1="165.2" x2="1208.5" y2="182.3" stroke="#000" stroke-width="1"/>
<line x1="1208.5" y1="225.5" x2="1208.5" y2="228.3" stroke="#000" stroke-width="1"/>
<rect x="1205.37" y="182.8" width="5" height="42.2" fill="#fff" fill-opacity="0.55" stroke="#0c0c0c" stroke-width="1"/>
<line x1="1215.5" y1="167.3" x2="1215.5" y2="189.4" stroke="#000" stroke-width="1"/>
<rect x="1213" y="181.2" width="5" height="5.6" fill="#000"/>
<line x1="1222.5" y1="179.5" x2="1222.5" y2="207.4" stroke="#000" stroke-width="1"/>
<rect x="1220" y="188.0" width="5" height="16.9" fill="#000"/>
<line x1="1229.5" y1="190.5" x2="1229.5" y2="214.4" stroke="#000" stroke-width="1"/>
<rect x="1226.5" y="203" width="6" height="1" fill="#000"/>
<rect x="1226.5" y="202.75" width="6" height="1.5" fill="#000" opacity="0.25"/>
<line x1="1236.5" y1="189.4" x2="1236.5" y2="249.2" stroke="#000" stroke-width="1"/>
<rect x="1234" y="205.1" width="5" height="39.3" fill="#000"/>
<line x1="1243.5" y1="201.3" x2="1243.5" y2="212.6" stroke="#000" stroke-width="1"/>
<line x1="1243.5" y1="245.4" x2="1243.5" y2="252.1" stroke="#000" stroke-width="1"/>
<rect x="1241.11" y="213.1" width="5" height="31.8" fill="#fff" fill-opacity="0.55" stroke="#0c0c0c" stroke-width="1"/>
<line x1="1251.5" y1="213.0" x2="1251.5" y2="220.3" stroke="#000" stroke-width="1"/>
<rect x="1248.26" y="192.7" width="5" height="19.8" fill="#fff" fill-opacity="0.55" stroke="#0c0c0c" stroke-width="1"/>
<line x1="1258.5" y1="183.5" x2="1258.5" y2="234.3" stroke="#000" stroke-width="1"/>
<rect x="1256" y="194.3" width="5" height="30.9" fill="#000"/>
<line x1="1265.5" y1="181.2" x2="1265.5" y2="219.6" stroke="#000" stroke-width="1"/>
<rect x="1263" y="201.6" width="5" height="8.2" fill="#000"/>
<line x1="1272.5" y1="184.5" x2="1272.5" y2="194.3" stroke="#000" stroke-width="1"/>
<line x1="1272.5" y1="210.2" x2="1272.5" y2="232.3" stroke="#000" stroke-width="1"/>
<rect x="1269.70" y="194.8" width="5" height="14.9" fill="#fff" fill-opacity="0.55" stroke="#0c0c0c" stroke-width="1"/>
<line x1="1279.5" y1="186.3" x2="1279.5" y2="192.2" stroke="#000" stroke-width="1"/>
<line x1="1279.5" y1="196.1" x2="1279.5" y2="211.5" stroke="#000" stroke-width="1"/>
<rect x="1276.85" y="192.7" width="5" height="2.9" fill="#fff" fill-opacity="0.55" stroke="#0c0c0c" stroke-width="1"/>
<line x1="1286.5" y1="175.3" x2="1286.5" y2="203.4" stroke="#000" stroke-width="1"/>
<rect x="1283.5" y="192" width="6" height="1" fill="#000"/>
<rect x="1283.5" y="191.75" width="6" height="1.5" fill="#000" opacity="0.25"/>
<line x1="1293.5" y1="186.3" x2="1293.5" y2="250.3" stroke="#000" stroke-width="1"/>
<rect x="1291" y="192.9" width="5" height="35.2" fill="#000"/>
<line x1="1301.5" y1="187.3" x2="1301.5" y2="192.9" stroke="#000" stroke-width="1"/>
<line x1="1301.5" y1="222.4" x2="1301.5" y2="228.3" stroke="#000" stroke-width="1"/>
<rect x="1298.29" y="193.4" width="5" height="28.5" fill="#fff" fill-opacity="0.55" stroke="#0c0c0c" stroke-width="1"/>
<line x1="1308.5" y1="183.5" x2="1308.5" y2="204.1" stroke="#000" stroke-width="1"/>
<rect x="1306" y="190.8" width="5" height="10.5" fill="#000"/>
<line x1="1315.5" y1="182.3" x2="1315.5" y2="222.4" stroke="#000" stroke-width="1"/>
<rect x="1313" y="200.9" width="5" height="15.2" fill="#000"/>
<line x1="1322.5" y1="195.3" x2="1322.5" y2="201.3" stroke="#000" stroke-width="1"/>
<line x1="1322.5" y1="215.4" x2="1322.5" y2="238.4" stroke="#000" stroke-width="1"/>
<rect x="1319.74" y="201.8" width="5" height="13.1" fill="#fff" fill-opacity="0.55" stroke="#0c0c0c" stroke-width="1"/>
<line x1="1329.5" y1="170.4" x2="1329.5" y2="217.2" stroke="#000" stroke-width="1"/>
<rect x="1326.5" y="202" width="6" height="1" fill="#000"/>
<rect x="1326.5" y="201.75" width="6" height="1.5" fill="#000" opacity="0.25"/>
<line x1="1336.5" y1="202.3" x2="1336.5" y2="229.5" stroke="#000" stroke-width="1"/>
<rect x="1334" y="211.9" width="5" height="7.7" fill="#000"/>
<line x1="1343.5" y1="217.5" x2="1343.5" y2="241.1" stroke="#000" stroke-width="1"/>
<rect x="1341" y="220.7" width="5" height="13.9" fill="#000"/>
<line x1="1351.5" y1="214.4" x2="1351.5" y2="217.5" stroke="#000" stroke-width="1"/>
<line x1="1351.5" y1="233.3" x2="1351.5" y2="263.5" stroke="#000" stroke-width="1"/>
<rect x="1348.33" y="218.0" width="5" height="14.8" fill="#fff" fill-opacity="0.55" stroke="#0c0c0c" stroke-width="1"/>
<line x1="1358.5" y1="177.4" x2="1358.5" y2="195.3" stroke="#000" stroke-width="1"/>
<line x1="1358.5" y1="215.8" x2="1358.5" y2="219.6" stroke="#000" stroke-width="1"/>
<rect x="1355.48" y="195.8" width="5" height="19.5" fill="#fff" fill-opacity="0.55" stroke="#0c0c0c" stroke-width="1"/>
<line x1="1365.5" y1="188.3" x2="1365.5" y2="220.3" stroke="#000" stroke-width="1"/>
<rect x="1363" y="195.0" width="5" height="21.8" fill="#000"/>
<line x1="1372.5" y1="205.6" x2="1372.5" y2="212.2" stroke="#000" stroke-width="1"/>
<line x1="1372.5" y1="214.7" x2="1372.5" y2="220.3" stroke="#000" stroke-width="1"/>
<rect x="1369.77" y="212.7" width="5" height="1.5" fill="#fff" fill-opacity="0.55" stroke="#0c0c0c" stroke-width="1"/>
<line x1="1379.5" y1="178.4" x2="1379.5" y2="182.6" stroke="#000" stroke-width="1"/>
<line x1="1379.5" y1="211.5" x2="1379.5" y2="218.5" stroke="#000" stroke-width="1"/>
<rect x="1376.92" y="183.1" width="5" height="27.9" fill="#fff" fill-opacity="0.55" stroke="#0c0c0c" stroke-width="1"/>
<line x1="1386.5" y1="150.4" x2="1386.5" y2="168.3" stroke="#000" stroke-width="1"/>
<line x1="1386.5" y1="187.6" x2="1386.5" y2="189.4" stroke="#000" stroke-width="1"/>
<rect x="1384.07" y="168.8" width="5" height="18.3" fill="#fff" fill-opacity="0.55" stroke="#0c0c0c" stroke-width="1"/>
<line x1="1393.5" y1="165.3" x2="1393.5" y2="187.4" stroke="#000" stroke-width="1"/>
<rect x="1391" y="167.2" width="5" height="10.6" fill="#000"/>
<line x1="1401.5" y1="139.6" x2="1401.5" y2="168.7" stroke="#000" stroke-width="1"/>
<line x1="1401.5" y1="177.5" x2="1401.5" y2="183.5" stroke="#000" stroke-width="1"/>
<rect x="1398.36" y="169.2" width="5" height="7.8" fill="#fff" fill-opacity="0.55" stroke="#0c0c0c" stroke-width="1"/>
<line x1="1408.5" y1="161.5" x2="1408.5" y2="217.2" stroke="#000" stroke-width="1"/>
<rect x="1406" y="166.6" width="5" height="48.6" fill="#000"/>
<line x1="1415.5" y1="193.6" x2="1415.5" y2="249.4" stroke="#000" stroke-width="1"/>
<rect x="1413" y="215.5" width="5" height="26.1" fill="#000"/>
<line x1="1422.5" y1="220.5" x2="1422.5" y2="228.2" stroke="#000" stroke-width="1"/>
<line x1="1422.5" y1="241.3" x2="1422.5" y2="260.4" stroke="#000" stroke-width="1"/>
<rect x="1419.81" y="228.7" width="5" height="12.1" fill="#fff" fill-opacity="0.55" stroke="#0c0c0c" stroke-width="1"/>
<line x1="1429.5" y1="219.3" x2="1429.5" y2="262.3" stroke="#000" stroke-width="1"/>
<rect x="1427" y="230.4" width="5" height="31.9" fill="#000"/>
<line x1="1436.5" y1="252.3" x2="1436.5" y2="320.2" stroke="#000" stroke-width="1"/>
<rect x="1434" y="261.2" width="5" height="56.2" fill="#000"/>
<line x1="1444.5" y1="309.7" x2="1444.5" y2="316.4" stroke="#000" stroke-width="1"/>
<rect x="1441.25" y="316.9" width="5" height="14.8" fill="#fff" fill-opacity="0.55" stroke="#0c0c0c" stroke-width="1"/>
<line x1="1451.5" y1="292.2" x2="1451.5" y2="307.5" stroke="#000" stroke-width="1"/>
<line x1="1451.5" y1="316.0" x2="1451.5" y2="327.3" stroke="#000" stroke-width="1"/>
<rect x="1448.40" y="308.0" width="5" height="7.5" fill="#fff" fill-opacity="0.55" stroke="#0c0c0c" stroke-width="1"/>
<line x1="1458.5" y1="270.9" x2="1458.5" y2="272.0" stroke="#000" stroke-width="1"/>
<line x1="1458.5" y1="308.4" x2="1458.5" y2="312.5" stroke="#000" stroke-width="1"/>
<rect x="1455.55" y="272.5" width="5" height="35.4" fill="#fff" fill-opacity="0.55" stroke="#0c0c0c" stroke-width="1"/>
<line x1="1465.5" y1="270.6" x2="1465.5" y2="297.4" stroke="#000" stroke-width="1"/>
<rect x="1463" y="272.9" width="5" height="8.4" fill="#000"/>
<line x1="1472.5" y1="223.4" x2="1472.5" y2="229.4" stroke="#000" stroke-width="1"/>
<line x1="1472.5" y1="282.9" x2="1472.5" y2="284.3" stroke="#000" stroke-width="1"/>
<rect x="1469.84" y="229.9" width="5" height="52.5" fill="#fff" fill-opacity="0.55" stroke="#0c0c0c" stroke-width="1"/>
<line x1="1479.5" y1="226.2" x2="1479.5" y2="230.2" stroke="#000" stroke-width="1"/>
<line x1="1479.5" y1="233.0" x2="1479.5" y2="242.3" stroke="#000" stroke-width="1"/>
<rect x="1476.99" y="230.7" width="5" height="1.8" fill="#fff" fill-opacity="0.55" stroke="#0c0c0c" stroke-width="1"/>
<line x1="1486.5" y1="218.4" x2="1486.5" y2="253.3" stroke="#000" stroke-width="1"/>
<rect x="1484" y="231.1" width="5" height="20.4" fill="#000"/>
<line x1="1494.5" y1="247.3" x2="1494.5" y2="309.7" stroke="#000" stroke-width="1"/>
<rect x="1492" y="252.9" width="5" height="55.7" fill="#000"/>
<line x1="1501.5" y1="305.2" x2="1501.5" y2="387.1" stroke="#000" stroke-width="1"/>
<rect x="1499" y="309.7" width="5" height="53.2" fill="#000"/>
<line x1="1508.5" y1="339.5" x2="1508.5" y2="345.6" stroke="#000" stroke-width="1"/>
<line x1="1508.5" y1="363.1" x2="1508.5" y2="380.2" stroke="#000" stroke-width="1"/>
<rect x="1505.58" y="346.1" width="5" height="16.5" fill="#fff" fill-opacity="0.55" stroke="#0c0c0c" stroke-width="1"/>
<line x1="1515.5" y1="347.0" x2="1515.5" y2="371.3" stroke="#000" stroke-width="1"/>
<rect x="1513" y="348.8" width="5" height="20.2" fill="#000"/>
<line x1="1522.5" y1="352.6" x2="1522.5" y2="386.2" stroke="#000" stroke-width="1"/>
<rect x="1520" y="371.3" width="5" height="3.7" fill="#000"/>
<line x1="1529.5" y1="360.3" x2="1529.5" y2="413.3" stroke="#000" stroke-width="1"/>
<rect x="1527" y="377.4" width="5" height="23.3" fill="#000"/>
<line x1="1536.5" y1="393.6" x2="1536.5" y2="422.3" stroke="#000" stroke-width="1"/>
<rect x="1534" y="400.7" width="5" height="18.5" fill="#000"/>
<line x1="1544.5" y1="410.5" x2="1544.5" y2="441.4" stroke="#000" stroke-width="1"/>
<rect x="1541.5" y="419" width="6" height="1" fill="#000"/>
<rect x="1541.5" y="418.75" width="6" height="1.5" fill="#000" opacity="0.25"/>
<line x1="1551.5" y1="389.4" x2="1551.5" y2="396.4" stroke="#000" stroke-width="1"/>
<line x1="1551.5" y1="430.5" x2="1551.5" y2="432.6" stroke="#000" stroke-width="1"/>
<rect x="1548.47" y="396.9" width="5" height="33.1" fill="#fff" fill-opacity="0.55" stroke="#0c0c0c" stroke-width="1"/>
<line x1="1558.5" y1="393.2" x2="1558.5" y2="419.2" stroke="#000" stroke-width="1"/>
<rect x="1556" y="396.4" width="5" height="15.8" fill="#000"/>
<line x1="1565.5" y1="405.9" x2="1565.5" y2="443.1" stroke="#000" stroke-width="1"/>
<rect x="1563" y="413.3" width="5" height="29.8" fill="#000"/>
<line x1="1572.5" y1="427.4" x2="1572.5" y2="454.4" stroke="#000" stroke-width="1"/>
<rect x="1570" y="440.7" width="5" height="5.2" fill="#000"/>
<line x1="1579.5" y1="394.2" x2="1579.5" y2="428.4" stroke="#000" stroke-width="1"/>
<line x1="1579.5" y1="445.7" x2="1579.5" y2="452.7" stroke="#000" stroke-width="1"/>
<rect x="1577.06" y="428.9" width="5" height="16.3" fill="#fff" fill-opacity="0.55" stroke="#0c0c0c" stroke-width="1"/>
<line x1="1586.5" y1="414.3" x2="1586.5" y2="419.2" stroke="#000" stroke-width="1"/>
<line x1="1586.5" y1="432.2" x2="1586.5" y2="448.5" stroke="#000" stroke-width="1"/>
<rect x="1584.21" y="419.7" width="5" height="12.0" fill="#fff" fill-opacity="0.55" stroke="#0c0c0c" stroke-width="1"/>
<line x1="1594.5" y1="393.2" x2="1594.5" y2="404.5" stroke="#000" stroke-width="1"/>
<line x1="1594.5" y1="418.5" x2="1594.5" y2="426.5" stroke="#000" stroke-width="1"/>
<rect x="1591.36" y="405.0" width="5" height="13.0" fill="#fff" fill-opacity="0.55" stroke="#0c0c0c" stroke-width="1"/>
</g>
<polyline points="0.0,410.1 3.0,411.6 6.0,413.1 9.0,414.5 12.0,415.8 15.0,417.0 18.0,418.0 21.0,419.0 24.0,419.8 27.0,420.6 30.0,421.4 33.0,422.1 36.0,422.7 39.0,423.2 42.0,423.6 45.0,423.9 48.0,424.1 51.0,424.2 54.0,424.4 57.0,424.6 60.0,424.7 63.0,425.0 66.0,425.3 69.0,425.7 72.0,426.1 75.0,426.6 78.0,427.1 81.0,427.6 84.0,428.0 87.0,428.5 90.0,428.8 93.0,429.2 96.0,429.7 99.0,430.3 102.0,431.3 105.0,432.5 108.0,433.9 111.0,435.3 114.0,436.5 117.0,437.8 120.0,439.0 123.0,440.2 126.0,441.3 129.0,442.3 132.0,443.1 135.0,444.0 138.0,444.8 141.0,445.8 144.0,447.0 147.0,448.3 150.0,449.6 153.0,451.0 156.0,452.4 159.0,454.1 162.0,455.8 165.0,457.4 168.0,458.8 171.0,459.9 174.0,460.9 177.0,461.7 180.0,462.5 183.0,463.4 186.0,464.2 189.0,465.1 192.0,465.9 195.0,466.5 198.0,466.9 201.0,467.3 204.0,467.6 207.0,467.8 210.0,467.7 213.0,467.5 216.0,467.0 219.0,466.6 222.0,466.2 225.0,466.1 228.0,466.2 231.0,466.4 234.0,466.6 237.0,466.9 240.0,467.2 243.0,467.5 246.0,467.7 249.0,467.7 252.0,467.7 255.0,467.7 258.0,467.7 261.0,467.7 264.0,467.7 267.0,467.7 270.0,467.7 273.0,467.8 276.0,468.0 279.0,468.4 282.0,468.8 285.0,469.3 288.0,469.6 291.0,469.9 294.0,469.9 297.0,469.7 300.0,469.4 303.0,468.9 306.0,468.4 309.0,467.7 312.0,467.1 315.0,466.5 318.0,466.0 321.0,465.6 324.0,465.2 327.0,464.9 330.0,464.5 333.0,464.2 336.0,463.9 339.0,463.5 342.0,463.1 345.0,462.5 348.0,461.9 351.0,461.1 354.0,460.2 357.0,459.2 360.0,458.2 363.0,457.2 366.0,456.2 369.0,455.3 372.0,454.5 375.0,453.7 378.0,453.1 381.0,452.5 384.0,452.0 387.0,451.4 390.0,451.0 393.0,450.5 396.0,450.3 399.0,450.1 402.0,450.1 405.0,450.1 408.0,450.1 411.0,450.1 414.0,450.1 417.0,449.8 420.0,449.0 423.0,447.9 426.0,446.5 429.0,445.1 432.0,443.8 435.0,442.6 438.0,441.5 441.0,440.4 444.0,439.2 447.0,438.1 450.0,436.9 453.0,435.6 456.0,434.2 459.0,432.6 462.0,430.7 465.0,428.8 468.0,426.8 471.0,425.0 474.0,423.2 477.0,421.5 480.0,419.9 483.0,418.4 486.0,416.9 489.0,415.5 492.0,414.0 495.0,412.5 498.0,410.9 501.0,409.3 504.0,407.6 507.0,405.9 510.0,404.0 513.0,402.0 516.0,399.5 519.0,396.7 522.0,393.8 525.0,390.8 528.0,388.0 531.0,385.4 534.0,382.8 537.0,380.3 540.0,377.8 543.0,375.4 546.0,373.1 549.0,370.7 552.0,368.5 555.0,366.3 558.0,364.2 561.0,362.2 564.0,360.0 567.0,357.8 570.0,355.5 573.0,353.2 576.0,350.8 579.0,348.3 582.0,345.6 585.0,342.7 588.0,339.7 591.0,336.5 594.0,333.4 597.0,330.2 600.0,327.2 603.0,324.3 606.0,321.4 609.0,318.5 612.0,315.6 615.0,312.8 618.0,310.0 621.0,307.3 624.0,304.6 627.0,302.0 630.0,299.3 633.0,296.7 636.0,294.2 639.0,291.8 642.0,289.7 645.0,287.8 648.0,286.0 651.0,284.7 654.0,283.7 657.0,282.9 660.0,282.2 663.0,281.5 666.0,280.9 669.0,280.4 672.0,279.8 675.0,279.2 678.0,278.5 681.0,277.8 684.0,277.0 687.0,276.2 690.0,275.3 693.0,274.5 696.0,273.6 699.0,272.8 702.0,271.9 705.0,271.1 708.0,270.3 711.0,269.6 714.0,268.9 717.0,268.2 720.0,267.6 723.0,267.0 726.0,266.4 729.0,265.9 732.0,265.3 735.0,264.8 738.0,264.3 741.0,263.8 744.0,263.4 747.0,262.9 750.0,262.5 753.0,262.2 756.0,261.8 759.0,261.4 762.0,261.0 765.0,260.6 768.0,260.0 771.0,259.4 774.0,259.7 777.0,260.5 780.0,261.2 783.0,261.9 786.0,262.8 789.0,263.6 792.0,264.5 795.0,265.3 798.0,266.0 801.0,266.7 804.0,267.3 807.0,267.7 810.0,268.0 813.0,268.1 816.0,268.1 819.0,268.0 822.0,268.0 825.0,267.9 828.0,267.7 831.0,267.6 834.0,267.5 837.0,267.4 840.0,267.3 843.0,267.2 846.0,267.1 849.0,267.1 852.0,267.2 855.0,267.8 858.0,268.6 861.0,269.3 864.0,269.7 867.0,270.2 870.0,270.6 873.0,271.1 876.0,271.7 879.0,272.5 882.0,273.3 885.0,274.2 888.0,275.2 891.0,276.3 894.0,277.4 897.0,278.5 900.0,279.6 903.0,280.8 906.0,282.0 909.0,283.1 912.0,284.3 915.0,285.5 918.0,286.8 921.0,288.1 924.0,289.5 927.0,290.8 930.0,292.1 933.0,293.4 936.0,294.6 939.0,295.8 942.0,296.9 945.0,298.0 948.0,299.1 951.0,300.2 954.0,301.3 957.0,302.4 960.0,303.4 963.0,304.5 966.0,305.6 969.0,306.6 972.0,307.7 975.0,308.8 978.0,310.0 981.0,311.5 984.0,313.1 987.0,314.7 990.0,316.2 993.0,317.6 996.0,318.6 999.0,319.4 1002.0,320.0 1005.0,320.5 1008.0,320.8 1011.0,320.8 1014.0,320.6 1017.0,320.4 1020.0,320.1 1023.0,319.8 1026.0,319.4 1029.0,318.9 1032.0,318.4 1035.0,317.7 1038.0,317.0 1041.0,316.2 1044.0,315.5 1047.0,314.8 1050.0,314.1 1053.0,313.3 1056.0,312.5 1059.0,311.6 1062.0,310.7 1065.0,309.8 1068.0,309.0 1071.0,308.4 1074.0,308.0 1077.0,307.8 1080.0,307.7 1083.0,307.7 1086.0,307.7 1089.0,307.6 1092.0,307.6 1095.0,307.6 1098.0,307.5 1101.0,307.5 1104.0,307.4 1107.0,307.3 1110.0,307.2 1113.0,307.0 1116.0,306.7 1119.0,306.3 1122.0,305.8 1125.0,305.3 1128.0,304.8 1131.0,304.2 1134.0,303.3 1137.0,302.2 1140.0,301.0 1143.0,299.6 1146.0,298.2 1149.0,296.8 1152.0,295.4 1155.0,294.2 1158.0,293.2 1161.0,292.3 1164.0,291.6 1167.0,291.0 1170.0,290.5 1173.0,290.0 1176.0,289.5 1179.0,289.0 1182.0,288.5 1185.0,288.0 1188.0,287.5 1191.0,286.9 1194.0,286.2 1197.0,285.4 1200.0,284.6 1203.0,283.7 1206.0,282.7 1209.0,281.7 1212.0,280.6 1215.0,279.5 1218.0,278.4 1221.0,277.3 1224.0,276.1 1227.0,274.9 1230.0,273.7 1233.0,272.5 1236.0,271.2 1239.0,269.8 1242.0,268.4 1245.0,266.9 1248.0,265.3 1251.0,263.8 1254.0,262.2 1257.0,260.6 1260.0,259.0 1263.0,257.4 1266.0,255.9 1269.0,254.5 1272.0,253.0 1275.0,251.7 1278.0,250.5 1281.0,249.4 1284.0,248.4 1287.0,247.5 1290.0,246.7 1293.0,246.0 1296.0,245.3 1299.0,244.8 1302.0,244.5 1305.0,244.1 1308.0,243.8 1311.0,243.6 1314.0,243.3 1317.0,243.1 1320.0,242.9 1323.0,242.7 1326.0,242.5 1329.0,242.4 1332.0,242.3 1335.0,242.1 1338.0,241.9 1341.0,241.6 1344.0,241.0 1347.0,240.3 1350.0,239.5 1353.0,238.8 1356.0,238.2 1359.0,237.6 1362.0,237.2 1365.0,236.7 1368.0,236.2 1371.0,235.7 1374.0,235.1 1377.0,234.3 1380.0,233.2 1383.0,232.1 1386.0,231.0 1389.0,230.0 1392.0,229.4 1395.0,228.7 1398.0,228.3 1401.0,228.0 1404.0,227.8 1407.0,227.7 1410.0,227.6 1413.0,227.5 1416.0,227.5 1419.0,227.6 1422.0,227.8 1425.0,228.0 1428.0,228.3 1431.0,228.5 1434.0,228.8 1437.0,229.1 1440.0,229.5 1443.0,229.8 1446.0,230.1 1449.0,230.4 1452.0,230.6 1455.0,230.8 1458.0,231.0 1461.0,231.1 1464.0,231.1 1467.0,231.0 1470.0,230.8 1473.0,230.6 1476.0,230.3 1479.0,230.1 1482.0,229.8 1485.0,229.5 1488.0,229.2 1491.0,229.0 1494.0,229.1 1497.0,229.5 1500.0,230.2 1503.0,231.0 1506.0,231.9 1509.0,232.8 1512.0,233.8 1515.0,234.6 1518.0,235.6 1521.0,236.7 1524.0,237.8 1527.0,239.0 1530.0,240.2 1533.0,241.4 1536.0,242.6 1539.0,243.9 1542.0,245.0 1545.0,246.2 1548.0,247.4 1551.0,248.6 1554.0,249.8 1557.0,251.3 1560.0,252.9 1563.0,254.7 1566.0,256.7 1569.0,258.7 1572.0,260.8 1575.0,262.9 1578.0,264.8 1581.0,266.8 1584.0,268.8 1587.0,270.7 1590.0,272.7 1593.0,274.7 1594.1,275.4" fill="none" stroke="#ff9a1f" stroke-width="1.05" stroke-linejoin="round"/>
<polyline points="0.0,478.1 3.0,477.1 6.0,476.1 9.0,475.1 12.0,473.9 15.0,472.7 18.0,471.4 21.0,470.0 24.0,468.6 27.0,467.3 30.0,466.0 33.0,464.7 36.0,463.5 39.0,462.3 42.0,461.3 45.0,460.3 48.0,459.3 51.0,458.4 54.0,457.6 57.0,456.8 60.0,456.1 63.0,455.5 66.0,454.9 69.0,454.3 72.0,453.8 75.0,453.3 78.0,452.9 81.0,452.5 84.0,452.1 87.0,451.6 90.0,451.1 93.0,450.6 96.0,450.1 99.0,449.9 102.0,449.7 105.0,449.5 108.0,449.4 111.0,449.3 114.0,449.1 117.0,449.0 120.0,448.9 123.0,448.7 126.0,448.5 129.0,448.3 132.0,448.1 135.0,447.7 138.0,447.4 141.0,447.0 144.0,446.6 147.0,446.0 150.0,445.4 153.0,445.1 156.0,445.0 159.0,445.0 162.0,445.0 165.0,445.0 168.0,445.0 171.0,444.9 174.0,444.7 177.0,444.3 180.0,443.9 183.0,443.6 186.0,443.3 189.0,443.0 192.0,442.7 195.0,442.4 198.0,442.1 201.0,441.6 204.0,441.1 207.0,440.6 210.0,440.2 213.0,440.0 216.0,439.7 219.0,439.6 222.0,439.4 225.0,439.4 228.0,439.5 231.0,439.6 234.0,439.9 237.0,440.0 240.0,440.1 243.0,440.0 246.0,439.9 249.0,439.6 252.0,439.3 255.0,438.9 258.0,438.5 261.0,438.1 264.0,437.7 267.0,437.3 270.0,436.9 273.0,436.5 276.0,436.2 279.0,435.8 282.0,435.4 285.0,435.0 288.0,434.6 291.0,434.1 294.0,433.7 297.0,433.2 300.0,432.7 303.0,432.2 306.0,431.7 309.0,431.3 312.0,430.9 315.0,430.6 318.0,430.4 321.0,430.3 324.0,430.3 327.0,430.5 330.0,430.7 333.0,431.0 336.0,431.4 339.0,431.8 342.0,432.2 345.0,432.7 348.0,433.1 351.0,433.5 354.0,433.8 357.0,434.1 360.0,434.4 363.0,434.7 366.0,435.0 369.0,435.3 372.0,435.5 375.0,435.8 378.0,436.1 381.0,436.3 384.0,436.6 387.0,436.8 390.0,437.0 393.0,437.1 396.0,437.2 399.0,437.3 402.0,437.3 405.0,437.3 408.0,437.2 411.0,437.1 414.0,437.0 417.0,436.9 420.0,436.7 423.0,436.4 426.0,436.0 429.0,435.7 432.0,435.3 435.0,434.9 438.0,434.5 441.0,434.1 444.0,433.7 447.0,433.3 450.0,432.9 453.0,432.5 456.0,432.0 459.0,431.6 462.0,431.2 465.0,430.9 468.0,430.6 471.0,430.3 474.0,430.1 477.0,429.9 480.0,429.8 483.0,429.6 486.0,429.4 489.0,429.3 492.0,429.1 495.0,428.8 498.0,428.5 501.0,428.2 504.0,427.9 507.0,427.5 510.0,427.1 513.0,426.7 516.0,426.2 519.0,425.7 522.0,425.0 525.0,424.4 528.0,423.7 531.0,422.9 534.0,422.2 537.0,421.5 540.0,420.7 543.0,419.9 546.0,419.1 549.0,418.2 552.0,417.3 555.0,416.4 558.0,415.4 561.0,414.3 564.0,413.2 567.0,412.0 570.0,410.7 573.0,409.5 576.0,408.2 579.0,406.8 582.0,405.5 585.0,404.1 588.0,402.6 591.0,401.1 594.0,399.6 597.0,398.0 600.0,396.4 603.0,394.9 606.0,393.3 609.0,391.9 612.0,390.5 615.0,389.1 618.0,387.6 621.0,386.1 624.0,384.6 627.0,383.2 630.0,382.0 633.0,380.9 636.0,379.9 639.0,379.3 642.0,378.8 645.0,378.5 648.0,378.1 651.0,377.6 654.0,377.0 657.0,376.2 660.0,375.4 663.0,374.6 666.0,373.9 669.0,373.3 672.0,372.8 675.0,372.4 678.0,372.0 681.0,371.5 684.0,371.1 687.0,370.7 690.0,370.2 693.0,369.6 696.0,369.0 699.0,368.3 702.0,367.5 705.0,366.6 708.0,365.7 711.0,364.8 714.0,363.8 717.0,362.9 720.0,362.1 723.0,361.2 726.0,360.5 729.0,359.8 732.0,359.2 735.0,358.7 738.0,358.3 741.0,357.9 744.0,357.6 747.0,357.2 750.0,356.9 753.0,356.6 756.0,356.3 759.0,356.1 762.0,355.8 765.0,355.6 768.0,355.3 771.0,355.1 774.0,354.8 777.0,354.6 780.0,354.3 783.0,354.1 786.0,353.9 789.0,353.8 792.0,353.6 795.0,353.4 798.0,353.1 801.0,352.9 804.0,352.6 807.0,352.2 810.0,351.6 813.0,351.0 816.0,350.2 819.0,349.4 822.0,348.6 825.0,347.8 828.0,347.0 831.0,346.2 834.0,345.3 837.0,344.4 840.0,343.5 843.0,342.6 846.0,341.7 849.0,340.8 852.0,340.0 855.0,339.2 858.0,338.4 861.0,337.7 864.0,337.0 867.0,336.3 870.0,335.7 873.0,335.0 876.0,334.4 879.0,333.6 882.0,332.8 885.0,331.8 888.0,330.9 891.0,329.9 894.0,328.9 897.0,328.0 900.0,327.3 903.0,326.7 906.0,326.1 909.0,325.7 912.0,325.3 915.0,325.0 918.0,324.6 921.0,324.3 924.0,323.9 927.0,323.5 930.0,323.0 933.0,322.4 936.0,321.7 939.0,320.9 942.0,320.1 945.0,319.3 948.0,318.4 951.0,317.5 954.0,316.6 957.0,315.6 960.0,314.6 963.0,313.6 966.0,312.5 969.0,311.5 972.0,310.5 975.0,309.6 978.0,308.9 981.0,308.2 984.0,307.5 987.0,306.9 990.0,306.3 993.0,305.8 996.0,305.2 999.0,304.6 1002.0,304.0 1005.0,303.5 1008.0,302.9 1011.0,302.4 1014.0,301.8 1017.0,301.3 1020.0,300.7 1023.0,300.2 1026.0,299.6 1029.0,299.1 1032.0,298.5 1035.0,297.9 1038.0,297.2 1041.0,296.5 1044.0,295.7 1047.0,294.9 1050.0,294.0 1053.0,293.2 1056.0,292.3 1059.0,291.5 1062.0,290.6 1065.0,289.9 1068.0,289.2 1071.0,288.5 1074.0,288.0 1077.0,287.5 1080.0,287.2 1083.0,286.9 1086.0,286.7 1089.0,286.5 1092.0,286.2 1095.0,286.0 1098.0,285.8 1101.0,285.5 1104.0,285.2 1107.0,284.8 1110.0,284.4 1113.0,283.9 1116.0,283.5 1119.0,283.0 1122.0,282.6 1125.0,282.2 1128.0,281.8 1131.0,281.4 1134.0,281.1 1137.0,280.8 1140.0,280.5 1143.0,280.2 1146.0,280.0 1149.0,279.7 1152.0,279.4 1155.0,279.2 1158.0,279.0 1161.0,278.7 1164.0,278.5 1167.0,278.3 1170.0,278.1 1173.0,277.9 1176.0,277.8 1179.0,277.6 1182.0,277.5 1185.0,277.4 1188.0,277.2 1191.0,277.0 1194.0,276.8 1197.0,276.4 1200.0,275.8 1203.0,275.1 1206.0,274.4 1209.0,274.0 1212.0,273.7 1215.0,273.4 1218.0,273.2 1221.0,273.0 1224.0,272.8 1227.0,272.6 1230.0,272.4 1233.0,272.3 1236.0,272.1 1239.0,272.0 1242.0,271.8 1245.0,271.7 1248.0,271.5 1251.0,271.3 1254.0,271.1 1257.0,270.9 1260.0,270.7 1263.0,270.6 1266.0,270.4 1269.0,270.3 1272.0,270.1 1275.0,270.1 1278.0,270.0 1281.0,270.0 1284.0,270.1 1287.0,270.3 1290.0,270.5 1293.0,270.8 1296.0,271.1 1299.0,271.4 1302.0,271.7 1305.0,272.1 1308.0,272.5 1311.0,272.9 1314.0,273.4 1317.0,273.9 1320.0,274.3 1323.0,274.8 1326.0,275.3 1329.0,275.9 1332.0,276.4 1335.0,276.9 1338.0,277.3 1341.0,277.6 1344.0,278.0 1347.0,278.3 1350.0,278.5 1353.0,278.7 1356.0,278.7 1359.0,278.6 1362.0,278.5 1365.0,278.3 1368.0,278.0 1371.0,277.8 1374.0,277.3 1377.0,276.6 1380.0,275.9 1383.0,275.2 1386.0,274.5 1389.0,273.9 1392.0,273.3 1395.0,272.7 1398.0,272.1 1401.0,271.6 1404.0,271.1 1407.0,270.6 1410.0,270.2 1413.0,269.8 1416.0,269.4 1419.0,269.1 1422.0,268.8 1425.0,268.5 1428.0,268.3 1431.0,268.2 1434.0,268.3 1437.0,268.5 1440.0,268.7 1443.0,269.0 1446.0,269.2 1449.0,269.3 1452.0,269.3 1455.0,269.3 1458.0,269.2 1461.0,269.2 1464.0,269.1 1467.0,268.9 1470.0,268.7 1473.0,268.4 1476.0,268.1 1479.0,267.7 1482.0,267.4 1485.0,267.0 1488.0,266.6 1491.0,266.3 1494.0,266.0 1497.0,265.7 1500.0,265.4 1503.0,265.1 1506.0,264.7 1509.0,264.4 1512.0,264.2 1515.0,264.0 1518.0,263.8 1521.0,263.7 1524.0,263.7 1527.0,263.9 1530.0,264.1 1533.0,264.4 1536.0,264.8 1539.0,265.3 1542.0,265.8 1545.0,266.3 1548.0,266.9 1551.0,267.3 1554.0,267.8 1557.0,268.2 1560.0,268.6 1563.0,269.1 1566.0,269.5 1569.0,269.9 1572.0,270.4 1575.0,270.8 1578.0,271.2 1581.0,271.7 1584.0,272.1 1587.0,272.6 1590.0,273.1 1593.0,273.5 1594.1,273.7" fill="none" stroke="#1f5fb8" stroke-width="1.05" stroke-linejoin="round"/>
<polyline points="0.0,571.0 3.0,570.5 6.0,570.1 9.0,569.6 12.0,569.2 15.0,568.7 18.0,568.3 21.0,567.8 24.0,567.4 27.0,566.9 30.0,566.5 33.0,566.0 36.0,565.5 39.0,565.1 42.0,564.6 45.0,564.2 48.0,563.8 51.0,563.3 54.0,562.9 57.0,562.5 60.0,562.1 63.0,561.8 66.0,561.4 69.0,561.0 72.0,560.7 75.0,560.5 78.0,560.2 81.0,560.0 84.0,559.8 87.0,559.7 90.0,559.5 93.0,559.3 96.0,559.2 99.0,559.0 102.0,558.9 105.0,558.7 108.0,558.5 111.0,558.4 114.0,558.2 117.0,558.1 120.0,557.9 123.0,557.8 126.0,557.6 129.0,557.5 132.0,557.3 135.0,557.2 138.0,557.0 141.0,556.9 144.0,556.7 147.0,556.6 150.0,556.4 153.0,556.2 156.0,555.9 159.0,555.6 162.0,555.4 165.0,555.3 168.0,555.2 171.0,555.2 174.0,555.2 177.0,555.1 180.0,554.9 183.0,554.7 186.0,554.3 189.0,553.9 192.0,553.4 195.0,552.8 198.0,552.2 201.0,551.5 204.0,550.9 207.0,550.4 210.0,549.8 213.0,549.2 216.0,548.6 219.0,547.8 222.0,547.1 225.0,546.3 228.0,545.6 231.0,544.9 234.0,544.2 237.0,543.5 240.0,542.9 243.0,542.2 246.0,541.5 249.0,540.8 252.0,540.1 255.0,539.3 258.0,538.6 261.0,537.8 264.0,537.0 267.0,536.2 270.0,535.3 273.0,534.5 276.0,533.7 279.0,532.9 282.0,532.0 285.0,531.2 288.0,530.3 291.0,529.5 294.0,528.6 297.0,527.8 300.0,526.9 303.0,526.1 306.0,525.3 309.0,524.5 312.0,523.7 315.0,522.9 318.0,522.1 321.0,521.3 324.0,520.5 327.0,519.7 330.0,518.8 333.0,517.8 336.0,516.9 339.0,515.9 342.0,514.8 345.0,513.8 348.0,512.8 351.0,511.8 354.0,510.8 357.0,509.8 360.0,508.8 363.0,507.8 366.0,506.8 369.0,505.9 372.0,504.9 375.0,504.0 378.0,503.1 381.0,502.2 384.0,501.3 387.0,500.5 390.0,499.6 393.0,498.8 396.0,498.0 399.0,497.2 402.0,496.4 405.0,495.5 408.0,494.7 411.0,494.0 414.0,493.2 417.0,492.4 420.0,491.6 423.0,490.8 426.0,490.0 429.0,489.1 432.0,488.2 435.0,487.2 438.0,486.1 441.0,485.0 444.0,483.8 447.0,482.7 450.0,481.6 453.0,480.6 456.0,479.7 459.0,478.8 462.0,478.0 465.0,477.2 468.0,476.4 471.0,475.7 474.0,475.0 477.0,474.3 480.0,473.6 483.0,472.9 486.0,472.2 489.0,471.5 492.0,470.8 495.0,470.2 498.0,469.5 501.0,468.8 504.0,468.2 507.0,467.5 510.0,466.9 513.0,466.3 516.0,465.7 519.0,465.0 522.0,464.4 525.0,463.8 528.0,463.3 531.0,462.7 534.0,462.1 537.0,461.5 540.0,460.9 543.0,460.3 546.0,459.7 549.0,459.1 552.0,458.4 555.0,457.8 558.0,457.1 561.0,456.4 564.0,455.8 567.0,455.1 570.0,454.4 573.0,453.7 576.0,453.0 579.0,452.3 582.0,451.6 585.0,451.0 588.0,450.3 591.0,449.7 594.0,449.1 597.0,448.4 600.0,447.8 603.0,447.1 606.0,446.4 609.0,445.7 612.0,445.0 615.0,444.1 618.0,443.2 621.0,442.3 624.0,441.3 627.0,440.3 630.0,439.3 633.0,438.4 636.0,437.5 639.0,436.7 642.0,436.0 645.0,435.4 648.0,434.8 651.0,434.3 654.0,433.7 657.0,433.3 660.0,432.8 663.0,432.2 666.0,431.7 669.0,431.1 672.0,430.5 675.0,429.9 678.0,429.3 681.0,428.6 684.0,428.0 687.0,427.3 690.0,426.6 693.0,425.8 696.0,425.1 699.0,424.3 702.0,423.4 705.0,422.5 708.0,421.4 711.0,420.3 714.0,419.3 717.0,418.2 720.0,417.3 723.0,416.4 726.0,415.5 729.0,414.6 732.0,413.7 735.0,412.9 738.0,412.0 741.0,411.2 744.0,410.4 747.0,409.7 750.0,409.1 753.0,408.5 756.0,407.9 759.0,407.4 762.0,407.0 765.0,406.6 768.0,406.3 771.0,405.9 774.0,405.5 777.0,405.1 780.0,404.7 783.0,404.3 786.0,403.9 789.0,403.4 792.0,403.0 795.0,402.5 798.0,402.1 801.0,401.6 804.0,401.2 807.0,400.7 810.0,400.3 813.0,399.8 816.0,399.3 819.0,398.9 822.0,398.4 825.0,397.9 828.0,397.4 831.0,396.9 834.0,396.4 837.0,395.9 840.0,395.3 843.0,394.8 846.0,394.2 849.0,393.7 852.0,393.1 855.0,392.5 858.0,392.0 861.0,391.5 864.0,390.9 867.0,390.4 870.0,389.9 873.0,389.4 876.0,388.9 879.0,388.4 882.0,388.0 885.0,387.5 888.0,387.1 891.0,386.7 894.0,386.4 897.0,386.0 900.0,385.6 903.0,385.3 906.0,385.0 909.0,384.6 912.0,384.3 915.0,383.9 918.0,383.6 921.0,383.2 924.0,382.9 927.0,382.5 930.0,382.1 933.0,381.7 936.0,381.3 939.0,380.9 942.0,380.4 945.0,379.9 948.0,379.4 951.0,378.9 954.0,378.4 957.0,377.8 960.0,377.2 963.0,376.6 966.0,376.1 969.0,375.5 972.0,374.9 975.0,374.3 978.0,373.7 981.0,373.1 984.0,372.5 987.0,371.9 990.0,371.3 993.0,370.8 996.0,370.2 999.0,369.7 1002.0,369.2 1005.0,368.6 1008.0,368.1 1011.0,367.6 1014.0,367.1 1017.0,366.6 1020.0,366.2 1023.0,365.7 1026.0,365.3 1029.0,364.9 1032.0,364.5 1035.0,364.0 1038.0,363.7 1041.0,363.3 1044.0,363.0 1047.0,362.7 1050.0,362.6 1053.0,362.4 1056.0,362.3 1059.0,362.2 1062.0,362.1 1065.0,362.0 1068.0,361.9 1071.0,361.8 1074.0,361.7 1077.0,361.7 1080.0,361.6 1083.0,361.5 1086.0,361.4 1089.0,361.3 1092.0,361.2 1095.0,361.1 1098.0,361.0 1101.0,360.9 1104.0,360.9 1107.0,360.8 1110.0,360.7 1113.0,360.5 1116.0,360.4 1119.0,360.3 1122.0,360.2 1125.0,360.0 1128.0,359.8 1131.0,359.5 1134.0,359.3 1137.0,359.0 1140.0,358.6 1143.0,358.3 1146.0,358.0 1149.0,357.6 1152.0,357.3 1155.0,356.9 1158.0,356.6 1161.0,356.3 1164.0,356.0 1167.0,355.7 1170.0,355.4 1173.0,355.1 1176.0,354.8 1179.0,354.5 1182.0,354.2 1185.0,353.9 1188.0,353.6 1191.0,353.3 1194.0,353.0 1197.0,352.7 1200.0,352.4 1203.0,352.1 1206.0,351.9 1209.0,351.6 1212.0,351.4 1215.0,351.1 1218.0,350.9 1221.0,350.6 1224.0,350.4 1227.0,350.1 1230.0,349.8 1233.0,349.5 1236.0,349.2 1239.0,348.9 1242.0,348.5 1245.0,348.1 1248.0,347.6 1251.0,347.1 1254.0,346.5 1257.0,345.9 1260.0,345.2 1263.0,344.5 1266.0,343.9 1269.0,343.2 1272.0,342.6 1275.0,342.0 1278.0,341.4 1281.0,340.8 1284.0,340.2 1287.0,339.5 1290.0,339.0 1293.0,338.4 1296.0,337.9 1299.0,337.4 1302.0,336.9 1305.0,336.4 1308.0,336.0 1311.0,335.6 1314.0,335.1 1317.0,334.7 1320.0,334.3 1323.0,333.9 1326.0,333.5 1329.0,333.1 1332.0,332.6 1335.0,332.2 1338.0,331.8 1341.0,331.4 1344.0,331.0 1347.0,330.6 1350.0,330.2 1353.0,329.8 1356.0,329.4 1359.0,328.9 1362.0,328.5 1365.0,328.1 1368.0,327.6 1371.0,327.1 1374.0,326.6 1377.0,326.0 1380.0,325.4 1383.0,324.8 1386.0,324.2 1389.0,323.6 1392.0,323.0 1395.0,322.4 1398.0,321.8 1401.0,321.2 1404.0,320.6 1407.0,320.0 1410.0,319.4 1413.0,318.8 1416.0,318.2 1419.0,317.7 1422.0,317.3 1425.0,316.9 1428.0,316.6 1431.0,316.2 1434.0,315.9 1437.0,315.6 1440.0,315.2 1443.0,314.9 1446.0,314.5 1449.0,314.2 1452.0,313.8 1455.0,313.5 1458.0,313.1 1461.0,312.8 1464.0,312.5 1467.0,312.1 1470.0,311.8 1473.0,311.5 1476.0,311.2 1479.0,310.9 1482.0,310.6 1485.0,310.3 1488.0,310.0 1491.0,309.8 1494.0,309.5 1497.0,309.3 1500.0,309.0 1503.0,308.8 1506.0,308.6 1509.0,308.4 1512.0,308.1 1515.0,307.9 1518.0,307.7 1521.0,307.5 1524.0,307.3 1527.0,307.2 1530.0,307.0 1533.0,306.8 1536.0,306.6 1539.0,306.4 1542.0,306.2 1545.0,306.0 1548.0,305.8 1551.0,305.7 1554.0,305.5 1557.0,305.3 1560.0,305.1 1563.0,305.0 1566.0,304.8 1569.0,304.6 1572.0,304.5 1575.0,304.3 1578.0,304.1 1581.0,304.0 1584.0,303.8 1587.0,303.7 1590.0,303.5 1593.0,303.4 1594.1,303.3" fill="none" stroke="#ff1aff" stroke-width="1.05" stroke-linejoin="round"/>
<line x1="0" y1="405.5" x2="1637" y2="405.5" stroke="#2d4a72" stroke-width="1" shape-rendering="crispEdges"/>
<g font-size="11" fill="#555">
<line x1="1637" y1="29.50" x2="1642" y2="29.50" stroke="#707070" stroke-width="1"/>
<text x="1644.5" y="34">1.3750</text>
<line x1="1637" y1="59.34" x2="1642" y2="59.34" stroke="#707070" stroke-width="1"/>
<text x="1644.5" y="63">1.3700</text>
<line x1="1637" y1="89.18" x2="1642" y2="89.18" stroke="#707070" stroke-width="1"/>
<text x="1644.5" y="93">1.3650</text>
<line x1="1637" y1="119.03" x2="1642" y2="119.03" stroke="#707070" stroke-width="1"/>
<text x="1644.5" y="123">1.3600</text>
<line x1="1637" y1="148.87" x2="1642" y2="148.87" stroke="#707070" stroke-width="1"/>
<text x="1644.5" y="153">1.3550</text>
<line x1="1637" y1="178.71" x2="1642" y2="178.71" stroke="#707070" stroke-width="1"/>
<text x="1644.5" y="183">1.3500</text>
<line x1="1637" y1="208.55" x2="1642" y2="208.55" stroke="#707070" stroke-width="1"/>
<text x="1644.5" y="213">1.3450</text>
<line x1="1637" y1="238.39" x2="1642" y2="238.39" stroke="#707070" stroke-width="1"/>
<text x="1644.5" y="242">1.3400</text>
<line x1="1637" y1="268.24" x2="1642" y2="268.24" stroke="#707070" stroke-width="1"/>
<text x="1644.5" y="272">1.3350</text>
<line x1="1637" y1="298.08" x2="1642" y2="298.08" stroke="#707070" stroke-width="1"/>
<text x="1644.5" y="302">1.3300</text>
<line x1="1637" y1="327.92" x2="1642" y2="327.92" stroke="#707070" stroke-width="1"/>
<text x="1644.5" y="332">1.3250</text>
<line x1="1637" y1="357.76" x2="1642" y2="357.76" stroke="#707070" stroke-width="1"/>
<text x="1644.5" y="362">1.3200</text>
<line x1="1637" y1="387.60" x2="1642" y2="387.60" stroke="#707070" stroke-width="1"/>
<text x="1644.5" y="392">1.3150</text>
<line x1="1637" y1="417.45" x2="1642" y2="417.45" stroke="#707070" stroke-width="1"/>
<text x="1644.5" y="422">1.3100</text>
<line x1="1637" y1="447.29" x2="1642" y2="447.29" stroke="#707070" stroke-width="1"/>
<text x="1644.5" y="451">1.3050</text>
<line x1="1637" y1="477.13" x2="1642" y2="477.13" stroke="#707070" stroke-width="1"/>
<text x="1644.5" y="481">1.3000</text>
<line x1="1637" y1="506.97" x2="1642" y2="506.97" stroke="#707070" stroke-width="1"/>
<text x="1644.5" y="511">1.2950</text>
<line x1="1637" y1="536.81" x2="1642" y2="536.81" stroke="#707070" stroke-width="1"/>
<text x="1644.5" y="541">1.2900</text>
<line x1="1637" y1="566.66" x2="1642" y2="566.66" stroke="#707070" stroke-width="1"/>
<text x="1644.5" y="571">1.2850</text>
<line x1="1637" y1="596.50" x2="1642" y2="596.50" stroke="#707070" stroke-width="1"/>
<text x="1644.5" y="601">1.2800</text>
<line x1="1637" y1="626.34" x2="1642" y2="626.34" stroke="#707070" stroke-width="1"/>
<text x="1644.5" y="630">1.2750</text>
<line x1="1637" y1="656.18" x2="1642" y2="656.18" stroke="#707070" stroke-width="1"/>
<text x="1644.5" y="660">1.2700</text>
</g>
<g font-size="11" fill="#555" text-anchor="middle">
<line x1="21.5" y1="687" x2="21.5" y2="689" stroke="#555" stroke-width="1" shape-rendering="crispEdges"/>
<text x="21.6" y="703">Sep</text>
<line x1="50.5" y1="687" x2="50.5" y2="689" stroke="#555" stroke-width="1" shape-rendering="crispEdges"/>
<text x="50.1" y="703">7</text>
<line x1="78.5" y1="687" x2="78.5" y2="689" stroke="#555" stroke-width="1" shape-rendering="crispEdges"/>
<text x="78.7" y="703">13</text>
<line x1="107.5" y1="687" x2="107.5" y2="689" stroke="#555" stroke-width="1" shape-rendering="crispEdges"/>
<text x="107.3" y="703">19</text>
<line x1="135.5" y1="687" x2="135.5" y2="689" stroke="#555" stroke-width="1" shape-rendering="crispEdges"/>
<text x="135.9" y="703">25</text>
<line x1="164.5" y1="687" x2="164.5" y2="689" stroke="#555" stroke-width="1" shape-rendering="crispEdges"/>
<text x="164.5" y="703">Oct</text>
<line x1="193.5" y1="687" x2="193.5" y2="689" stroke="#555" stroke-width="1" shape-rendering="crispEdges"/>
<text x="193.1" y="703">5</text>
<line x1="221.5" y1="687" x2="221.5" y2="689" stroke="#555" stroke-width="1" shape-rendering="crispEdges"/>
<text x="221.7" y="703">11</text>
<line x1="250.5" y1="687" x2="250.5" y2="689" stroke="#555" stroke-width="1" shape-rendering="crispEdges"/>
<text x="250.3" y="703">17</text>
<line x1="278.5" y1="687" x2="278.5" y2="689" stroke="#555" stroke-width="1" shape-rendering="crispEdges"/>
<text x="278.9" y="703">23</text>
<line x1="307.5" y1="687" x2="307.5" y2="689" stroke="#555" stroke-width="1" shape-rendering="crispEdges"/>
<text x="307.5" y="703">29</text>
<line x1="328.5" y1="687" x2="328.5" y2="689" stroke="#555" stroke-width="1" shape-rendering="crispEdges"/>
<text x="328.9" y="703">Nov</text>
<line x1="357.5" y1="687" x2="357.5" y2="689" stroke="#555" stroke-width="1" shape-rendering="crispEdges"/>
<text x="357.5" y="703">7</text>
<line x1="386.5" y1="687" x2="386.5" y2="689" stroke="#555" stroke-width="1" shape-rendering="crispEdges"/>
<text x="386.1" y="703">13</text>
<line x1="414.5" y1="687" x2="414.5" y2="689" stroke="#555" stroke-width="1" shape-rendering="crispEdges"/>
<text x="414.7" y="703">19</text>
<line x1="443.5" y1="687" x2="443.5" y2="689" stroke="#555" stroke-width="1" shape-rendering="crispEdges"/>
<text x="443.3" y="703">23</text>
<line x1="486.5" y1="687" x2="486.5" y2="689" stroke="#555" stroke-width="1" shape-rendering="crispEdges"/>
<text x="486.2" y="703">Dec</text>
<line x1="514.5" y1="687" x2="514.5" y2="689" stroke="#555" stroke-width="1" shape-rendering="crispEdges"/>
<text x="514.8" y="703">7</text>
<line x1="543.5" y1="687" x2="543.5" y2="689" stroke="#555" stroke-width="1" shape-rendering="crispEdges"/>
<text x="543.4" y="703">13</text>
<line x1="571.5" y1="687" x2="571.5" y2="689" stroke="#555" stroke-width="1" shape-rendering="crispEdges"/>
<text x="571.9" y="703">19</text>
<line x1="600.5" y1="687" x2="600.5" y2="689" stroke="#555" stroke-width="1" shape-rendering="crispEdges"/>
<text x="600.5" y="703">26</text>
<line x1="629.5" y1="687" x2="629.5" y2="689" stroke="#555" stroke-width="1" shape-rendering="crispEdges"/>
<text x="629.1" y="703">Jan</text>
<line x1="657.5" y1="687" x2="657.5" y2="689" stroke="#555" stroke-width="1" shape-rendering="crispEdges"/>
<text x="657.7" y="703">7</text>
<line x1="686.5" y1="687" x2="686.5" y2="689" stroke="#555" stroke-width="1" shape-rendering="crispEdges"/>
<text x="686.3" y="703">11</text>
<line x1="714.5" y1="687" x2="714.5" y2="689" stroke="#555" stroke-width="1" shape-rendering="crispEdges"/>
<text x="714.9" y="703">17</text>
<line x1="743.5" y1="687" x2="743.5" y2="689" stroke="#555" stroke-width="1" shape-rendering="crispEdges"/>
<text x="743.5" y="703">23</text>
<line x1="772.5" y1="687" x2="772.5" y2="689" stroke="#555" stroke-width="1" shape-rendering="crispEdges"/>
<text x="772.1" y="703">29</text>
<line x1="793.5" y1="687" x2="793.5" y2="689" stroke="#555" stroke-width="1" shape-rendering="crispEdges"/>
<text x="793.5" y="703">Feb</text>
<line x1="822.5" y1="687" x2="822.5" y2="689" stroke="#555" stroke-width="1" shape-rendering="crispEdges"/>
<text x="822.1" y="703">7</text>
<line x1="850.5" y1="687" x2="850.5" y2="689" stroke="#555" stroke-width="1" shape-rendering="crispEdges"/>
<text x="850.7" y="703">13</text>
<line x1="879.5" y1="687" x2="879.5" y2="689" stroke="#555" stroke-width="1" shape-rendering="crispEdges"/>
<text x="879.3" y="703">19</text>
<line x1="907.5" y1="687" x2="907.5" y2="689" stroke="#555" stroke-width="1" shape-rendering="crispEdges"/>
<text x="907.9" y="703">25</text>
<line x1="936.5" y1="687" x2="936.5" y2="689" stroke="#555" stroke-width="1" shape-rendering="crispEdges"/>
<text x="936.5" y="703">Mar</text>
<line x1="965.5" y1="687" x2="965.5" y2="689" stroke="#555" stroke-width="1" shape-rendering="crispEdges"/>
<text x="965.1" y="703">7</text>
<line x1="993.5" y1="687" x2="993.5" y2="689" stroke="#555" stroke-width="1" shape-rendering="crispEdges"/>
<text x="993.7" y="703">13</text>
<line x1="1022.5" y1="687" x2="1022.5" y2="689" stroke="#555" stroke-width="1" shape-rendering="crispEdges"/>
<text x="1022.3" y="703">19</text>
<line x1="1050.5" y1="687" x2="1050.5" y2="689" stroke="#555" stroke-width="1" shape-rendering="crispEdges"/>
<text x="1050.9" y="703">25</text>
<line x1="1086.5" y1="687" x2="1086.5" y2="689" stroke="#555" stroke-width="1" shape-rendering="crispEdges"/>
<text x="1086.6" y="703">Apr</text>
<line x1="1115.5" y1="687" x2="1115.5" y2="689" stroke="#555" stroke-width="1" shape-rendering="crispEdges"/>
<text x="1115.2" y="703">5</text>
<line x1="1143.5" y1="687" x2="1143.5" y2="689" stroke="#555" stroke-width="1" shape-rendering="crispEdges"/>
<text x="1143.8" y="703">11</text>
<line x1="1172.5" y1="687" x2="1172.5" y2="689" stroke="#555" stroke-width="1" shape-rendering="crispEdges"/>
<text x="1172.4" y="703">17</text>
<line x1="1200.5" y1="687" x2="1200.5" y2="689" stroke="#555" stroke-width="1" shape-rendering="crispEdges"/>
<text x="1201.0" y="703">23</text>
<line x1="1243.5" y1="687" x2="1243.5" y2="689" stroke="#555" stroke-width="1" shape-rendering="crispEdges"/>
<text x="1243.9" y="703">May</text>
<line x1="1272.5" y1="687" x2="1272.5" y2="689" stroke="#555" stroke-width="1" shape-rendering="crispEdges"/>
<text x="1272.4" y="703">7</text>
<line x1="1301.5" y1="687" x2="1301.5" y2="689" stroke="#555" stroke-width="1" shape-rendering="crispEdges"/>
<text x="1301.0" y="703">13</text>
<line x1="1329.5" y1="687" x2="1329.5" y2="689" stroke="#555" stroke-width="1" shape-rendering="crispEdges"/>
<text x="1329.6" y="703">17</text>
<line x1="1358.5" y1="687" x2="1358.5" y2="689" stroke="#555" stroke-width="1" shape-rendering="crispEdges"/>
<text x="1358.2" y="703">23</text>
<line x1="1386.5" y1="687" x2="1386.5" y2="689" stroke="#555" stroke-width="1" shape-rendering="crispEdges"/>
<text x="1386.8" y="703">29</text>
<line x1="1408.5" y1="687" x2="1408.5" y2="689" stroke="#555" stroke-width="1" shape-rendering="crispEdges"/>
<text x="1408.3" y="703">Jun</text>
<line x1="1436.5" y1="687" x2="1436.5" y2="689" stroke="#555" stroke-width="1" shape-rendering="crispEdges"/>
<text x="1436.9" y="703">7</text>
<line x1="1465.5" y1="687" x2="1465.5" y2="689" stroke="#555" stroke-width="1" shape-rendering="crispEdges"/>
<text x="1465.4" y="703">13</text>
<line x1="1494.5" y1="687" x2="1494.5" y2="689" stroke="#555" stroke-width="1" shape-rendering="crispEdges"/>
<text x="1494.0" y="703">19</text>
<line x1="1522.5" y1="687" x2="1522.5" y2="689" stroke="#555" stroke-width="1" shape-rendering="crispEdges"/>
<text x="1522.6" y="703">25</text>
<line x1="1551.5" y1="687" x2="1551.5" y2="689" stroke="#555" stroke-width="1" shape-rendering="crispEdges"/>
<text x="1551.2" y="703">Jul</text>
<line x1="1579.5" y1="687" x2="1579.5" y2="689" stroke="#555" stroke-width="1" shape-rendering="crispEdges"/>
<text x="1579.8" y="703">5</text>
<line x1="1608.5" y1="687" x2="1608.5" y2="689" stroke="#555" stroke-width="1" shape-rendering="crispEdges"/>
<text x="1608.4" y="703">11</text>
</g>
<path d="M1637.3,405.3 L1640,402 L1640,398.5 Q1640,397.3 1641.2,397.3 L1687,397.3 Q1688.2,397.3 1688.2,398.5 L1688.2,411.6 Q1688.2,412.8 1687,412.8 L1641.2,412.8 Q1640,412.8 1640,411.6 L1640,408.6 Z" fill="#2f4d7a"/>
<text x="1645" y="410.2" font-size="11" font-weight="bold" fill="#fff">1.31207</text>
<rect x="4.5" y="4.5" width="81" height="23" fill="none" stroke="#fff" stroke-width="1" opacity="0.9"/>
<rect x="5" y="5" width="80" height="22" fill="rgba(0,0,0,0.6)"/>
<rect x="5" y="5" width="3" height="22" fill="#000"/>
<text x="17" y="21" font-size="11" font-weight="bold" fill="#fff" letter-spacing="-0.12">USD/CAD</text>
<rect x="4.5" y="31.5" width="86" height="23" fill="none" stroke="#fff" stroke-width="1" opacity="0.9"/>
<rect x="5" y="32" width="85" height="22" fill="rgba(0,0,0,0.6)"/>
<rect x="5" y="32" width="3" height="22" fill="#ff8f00"/>
<text x="17" y="48" font-size="11" font-weight="bold" fill="#fff" letter-spacing="-0.12">SMA (50,0)</text>
<rect x="4.5" y="58.5" width="92" height="23" fill="none" stroke="#fff" stroke-width="1" opacity="0.9"/>
<rect x="5" y="59" width="91" height="22" fill="rgba(0,0,0,0.6)"/>
<rect x="5" y="59" width="3" height="22" fill="#0b47b5"/>
<text x="17" y="75" font-size="11" font-weight="bold" fill="#fff" letter-spacing="-0.12">SMA (100,0)</text>
<rect x="4.5" y="85.5" width="92" height="23" fill="none" stroke="#fff" stroke-width="1" opacity="0.9"/>
<rect x="5" y="86" width="91" height="22" fill="rgba(0,0,0,0.6)"/>
<rect x="5" y="86" width="3" height="22" fill="#ff00ff"/>
<text x="17" y="102" font-size="11" font-weight="bold" fill="#fff" letter-spacing="-0.12">SMA (200,0)</text>
</svg>
</body></html>
